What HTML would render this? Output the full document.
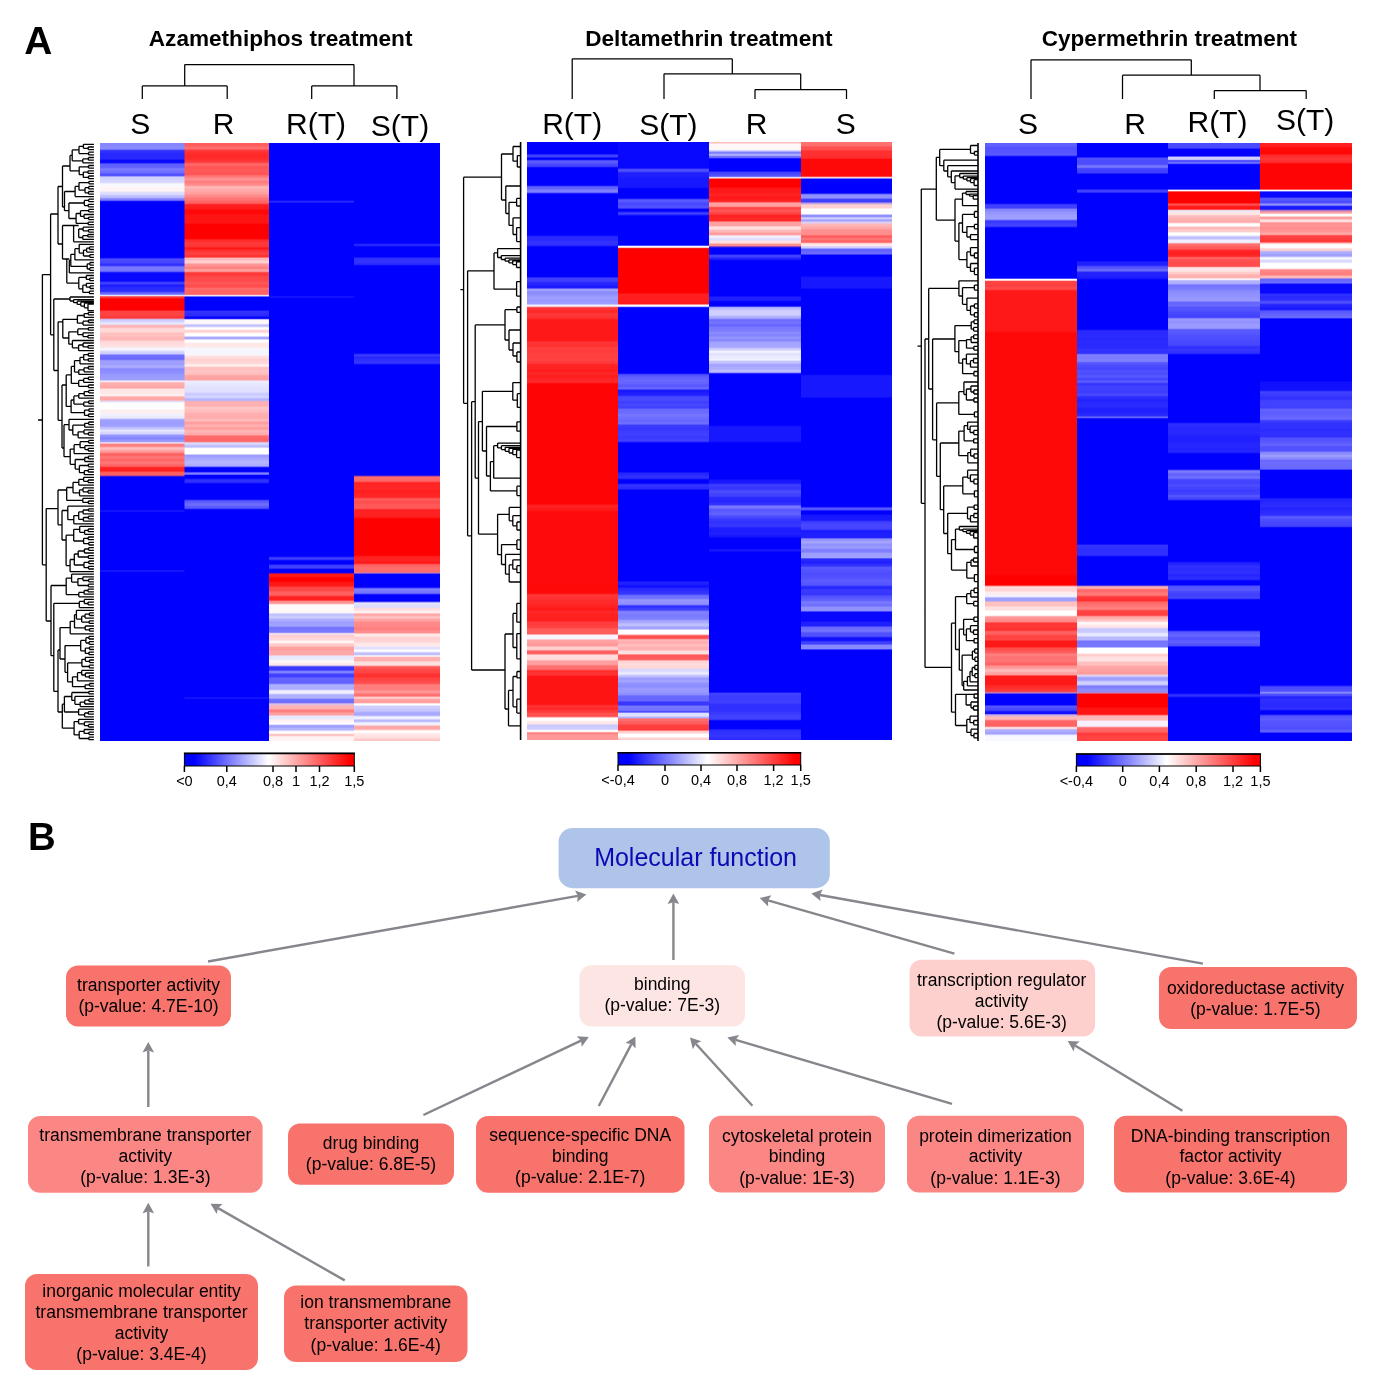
<!DOCTYPE html>
<html><head><meta charset="utf-8"><title>Figure</title>
<style>html,body{margin:0;padding:0;background:#fff}svg{display:block}text{font-family:"Liberation Sans", Arial, Helvetica, sans-serif}</style></head>
<body><svg width="1377" height="1386" viewBox="0 0 1377 1386">
<defs><linearGradient id="g1" gradientUnits="userSpaceOnUse" x1="0" y1="143" x2="0" y2="741"><stop offset="0.0015" stop-color="#8686ff"/><stop offset="0.0042" stop-color="#8686ff"/><stop offset="0.0072" stop-color="#8a8aff"/><stop offset="0.0099" stop-color="#8a8aff"/><stop offset="0.0129" stop-color="#3030ff"/><stop offset="0.0153" stop-color="#3030ff"/><stop offset="0.0183" stop-color="#2727ff"/><stop offset="0.0208" stop-color="#2727ff"/><stop offset="0.0238" stop-color="#2828ff"/><stop offset="0.0263" stop-color="#2828ff"/><stop offset="0.0293" stop-color="#0808ff"/><stop offset="0.0324" stop-color="#0808ff"/><stop offset="0.0355" stop-color="#6060ff"/><stop offset="0.0405" stop-color="#6060ff"/><stop offset="0.0433" stop-color="#7b7bff"/><stop offset="0.0450" stop-color="#7b7bff"/><stop offset="0.0476" stop-color="#6e6eff"/><stop offset="0.0494" stop-color="#6e6eff"/><stop offset="0.0522" stop-color="#5050ff"/><stop offset="0.0542" stop-color="#5050ff"/><stop offset="0.0572" stop-color="#d1d1ff"/><stop offset="0.0599" stop-color="#d1d1ff"/><stop offset="0.0629" stop-color="#d6d6ff"/><stop offset="0.0656" stop-color="#d6d6ff"/><stop offset="0.0686" stop-color="#f8f8ff"/><stop offset="0.0721" stop-color="#f8f8ff"/><stop offset="0.0751" stop-color="#fff4f4"/><stop offset="0.0798" stop-color="#fff4f4"/><stop offset="0.0828" stop-color="#dedeff"/><stop offset="0.0853" stop-color="#dedeff"/><stop offset="0.0883" stop-color="#bdbdff"/><stop offset="0.0908" stop-color="#bdbdff"/><stop offset="0.0936" stop-color="#8080ff"/><stop offset="0.0954" stop-color="#8080ff"/><stop offset="0.0982" stop-color="#0000ff"/><stop offset="0.1913" stop-color="#0000ff"/><stop offset="0.1941" stop-color="#4b4bff"/><stop offset="0.1959" stop-color="#4b4bff"/><stop offset="0.1985" stop-color="#4646ff"/><stop offset="0.2002" stop-color="#4646ff"/><stop offset="0.2028" stop-color="#3030ff"/><stop offset="0.2045" stop-color="#3030ff"/><stop offset="0.2073" stop-color="#7979ff"/><stop offset="0.2093" stop-color="#7979ff"/><stop offset="0.2123" stop-color="#7676ff"/><stop offset="0.2142" stop-color="#7676ff"/><stop offset="0.2172" stop-color="#0808ff"/><stop offset="0.2306" stop-color="#0808ff"/><stop offset="0.2335" stop-color="#4040ff"/><stop offset="0.2353" stop-color="#4040ff"/><stop offset="0.2379" stop-color="#1c1cff"/><stop offset="0.2395" stop-color="#1c1cff"/><stop offset="0.2421" stop-color="#2c2cff"/><stop offset="0.2437" stop-color="#2c2cff"/><stop offset="0.2462" stop-color="#2c2cff"/><stop offset="0.2479" stop-color="#2c2cff"/><stop offset="0.2507" stop-color="#6868ff"/><stop offset="0.2527" stop-color="#6868ff"/><stop offset="0.2553" stop-color="#f0f0ff"/><stop offset="0.2573" stop-color="#ff3030"/><stop offset="0.2586" stop-color="#ff3030"/><stop offset="0.2610" stop-color="#ff0000"/><stop offset="0.2788" stop-color="#ff0000"/><stop offset="0.2816" stop-color="#ff4343"/><stop offset="0.2835" stop-color="#ff4343"/><stop offset="0.2862" stop-color="#ff4343"/><stop offset="0.2880" stop-color="#ff4343"/><stop offset="0.2908" stop-color="#ff3838"/><stop offset="0.2926" stop-color="#ff3838"/><stop offset="0.2955" stop-color="#ccccff"/><stop offset="0.2977" stop-color="#ccccff"/><stop offset="0.3007" stop-color="#e5e5ff"/><stop offset="0.3028" stop-color="#e5e5ff"/><stop offset="0.3057" stop-color="#ffb0b0"/><stop offset="0.3075" stop-color="#ffb0b0"/><stop offset="0.3104" stop-color="#ffd8d8"/><stop offset="0.3154" stop-color="#ffd8d8"/><stop offset="0.3184" stop-color="#ffc0c0"/><stop offset="0.3222" stop-color="#ffc0c0"/><stop offset="0.3253" stop-color="#ffb8b8"/><stop offset="0.3291" stop-color="#ffb8b8"/><stop offset="0.3321" stop-color="#ffd9d9"/><stop offset="0.3349" stop-color="#ffd9d9"/><stop offset="0.3379" stop-color="#ffe0e0"/><stop offset="0.3406" stop-color="#ffe0e0"/><stop offset="0.3436" stop-color="#f4f4ff"/><stop offset="0.3463" stop-color="#f4f4ff"/><stop offset="0.3493" stop-color="#d0d0ff"/><stop offset="0.3520" stop-color="#d0d0ff"/><stop offset="0.3549" stop-color="#7070ff"/><stop offset="0.3568" stop-color="#7070ff"/><stop offset="0.3596" stop-color="#6969ff"/><stop offset="0.3615" stop-color="#6969ff"/><stop offset="0.3642" stop-color="#9f9fff"/><stop offset="0.3660" stop-color="#9f9fff"/><stop offset="0.3687" stop-color="#9e9eff"/><stop offset="0.3705" stop-color="#9e9eff"/><stop offset="0.3731" stop-color="#adadff"/><stop offset="0.3749" stop-color="#adadff"/><stop offset="0.3777" stop-color="#8989ff"/><stop offset="0.3795" stop-color="#8989ff"/><stop offset="0.3823" stop-color="#8d8dff"/><stop offset="0.3842" stop-color="#8d8dff"/><stop offset="0.3871" stop-color="#9898ff"/><stop offset="0.3899" stop-color="#9898ff"/><stop offset="0.3929" stop-color="#9e9eff"/><stop offset="0.3957" stop-color="#9e9eff"/><stop offset="0.3984" stop-color="#f4f4ff"/><stop offset="0.4012" stop-color="#ffaeae"/><stop offset="0.4038" stop-color="#ffaeae"/><stop offset="0.4068" stop-color="#ffa7a7"/><stop offset="0.4094" stop-color="#ffa7a7"/><stop offset="0.4122" stop-color="#ffe7e7"/><stop offset="0.4141" stop-color="#ffe7e7"/><stop offset="0.4168" stop-color="#ffe7e7"/><stop offset="0.4187" stop-color="#ffe7e7"/><stop offset="0.4211" stop-color="#fff0f0"/><stop offset="0.4224" stop-color="#fff0f0"/><stop offset="0.4249" stop-color="#ffa8a8"/><stop offset="0.4296" stop-color="#ffa8a8"/><stop offset="0.4324" stop-color="#e0e0ff"/><stop offset="0.4353" stop-color="#ffffff"/><stop offset="0.4438" stop-color="#ffffff"/><stop offset="0.4468" stop-color="#fff0f0"/><stop offset="0.4507" stop-color="#fff0f0"/><stop offset="0.4536" stop-color="#f1f1ff"/><stop offset="0.4554" stop-color="#f1f1ff"/><stop offset="0.4582" stop-color="#eaeaff"/><stop offset="0.4600" stop-color="#eaeaff"/><stop offset="0.4627" stop-color="#a1a1ff"/><stop offset="0.4645" stop-color="#a1a1ff"/><stop offset="0.4672" stop-color="#9d9dff"/><stop offset="0.4690" stop-color="#9d9dff"/><stop offset="0.4718" stop-color="#a0a0ff"/><stop offset="0.4736" stop-color="#a0a0ff"/><stop offset="0.4762" stop-color="#c3c3ff"/><stop offset="0.4779" stop-color="#c3c3ff"/><stop offset="0.4804" stop-color="#e5e5ff"/><stop offset="0.4821" stop-color="#e5e5ff"/><stop offset="0.4847" stop-color="#d3d3ff"/><stop offset="0.4864" stop-color="#d3d3ff"/><stop offset="0.4889" stop-color="#9494ff"/><stop offset="0.4906" stop-color="#9494ff"/><stop offset="0.4931" stop-color="#8484ff"/><stop offset="0.4948" stop-color="#8484ff"/><stop offset="0.4974" stop-color="#9898ff"/><stop offset="0.4991" stop-color="#9898ff"/><stop offset="0.5014" stop-color="#f0e8f8"/><stop offset="0.5040" stop-color="#ff8080"/><stop offset="0.5069" stop-color="#ff8080"/><stop offset="0.5099" stop-color="#ffbebe"/><stop offset="0.5119" stop-color="#ffbebe"/><stop offset="0.5149" stop-color="#ff9b9b"/><stop offset="0.5169" stop-color="#ff9b9b"/><stop offset="0.5198" stop-color="#ff6060"/><stop offset="0.5216" stop-color="#ff6060"/><stop offset="0.5244" stop-color="#ff7474"/><stop offset="0.5263" stop-color="#ff7474"/><stop offset="0.5291" stop-color="#ff6767"/><stop offset="0.5309" stop-color="#ff6767"/><stop offset="0.5337" stop-color="#ff7676"/><stop offset="0.5356" stop-color="#ff7676"/><stop offset="0.5384" stop-color="#ff6565"/><stop offset="0.5402" stop-color="#ff6565"/><stop offset="0.5431" stop-color="#ff2020"/><stop offset="0.5482" stop-color="#ff2020"/><stop offset="0.5512" stop-color="#ff6060"/><stop offset="0.5554" stop-color="#ff6060"/><stop offset="0.5584" stop-color="#0000ff"/><stop offset="0.6130" stop-color="#0000ff"/><stop offset="0.6154" stop-color="#1c1cff"/><stop offset="0.6177" stop-color="#0000ff"/><stop offset="0.7134" stop-color="#0000ff"/><stop offset="0.7157" stop-color="#2020ff"/><stop offset="0.7181" stop-color="#0000ff"/><stop offset="0.9985" stop-color="#0000ff"/></linearGradient>
<linearGradient id="g2" gradientUnits="userSpaceOnUse" x1="0" y1="143" x2="0" y2="741"><stop offset="0.0015" stop-color="#ff5c5c"/><stop offset="0.0042" stop-color="#ff5c5c"/><stop offset="0.0072" stop-color="#ff6c6c"/><stop offset="0.0099" stop-color="#ff6c6c"/><stop offset="0.0127" stop-color="#ff3535"/><stop offset="0.0144" stop-color="#ff3535"/><stop offset="0.0171" stop-color="#ff2c2c"/><stop offset="0.0188" stop-color="#ff2c2c"/><stop offset="0.0214" stop-color="#ff2828"/><stop offset="0.0232" stop-color="#ff2828"/><stop offset="0.0258" stop-color="#ff2d2d"/><stop offset="0.0276" stop-color="#ff2d2d"/><stop offset="0.0302" stop-color="#ff3939"/><stop offset="0.0320" stop-color="#ff3939"/><stop offset="0.0348" stop-color="#ff6767"/><stop offset="0.0370" stop-color="#ff6767"/><stop offset="0.0400" stop-color="#ff5555"/><stop offset="0.0421" stop-color="#ff5555"/><stop offset="0.0452" stop-color="#ff5959"/><stop offset="0.0473" stop-color="#ff5959"/><stop offset="0.0503" stop-color="#ff5555"/><stop offset="0.0525" stop-color="#ff5555"/><stop offset="0.0553" stop-color="#ff7979"/><stop offset="0.0571" stop-color="#ff7979"/><stop offset="0.0597" stop-color="#ff9292"/><stop offset="0.0615" stop-color="#ff9292"/><stop offset="0.0641" stop-color="#ff7d7d"/><stop offset="0.0659" stop-color="#ff7d7d"/><stop offset="0.0685" stop-color="#ff8a8a"/><stop offset="0.0703" stop-color="#ff8a8a"/><stop offset="0.0730" stop-color="#ffb6b6"/><stop offset="0.0750" stop-color="#ffb6b6"/><stop offset="0.0779" stop-color="#ffabab"/><stop offset="0.0798" stop-color="#ffabab"/><stop offset="0.0828" stop-color="#ffa1a1"/><stop offset="0.0847" stop-color="#ffa1a1"/><stop offset="0.0877" stop-color="#ff8a8a"/><stop offset="0.0897" stop-color="#ff8a8a"/><stop offset="0.0926" stop-color="#ff7474"/><stop offset="0.0951" stop-color="#ff7474"/><stop offset="0.0981" stop-color="#ff6464"/><stop offset="0.1005" stop-color="#ff6464"/><stop offset="0.1033" stop-color="#ff1f1f"/><stop offset="0.1051" stop-color="#ff1f1f"/><stop offset="0.1078" stop-color="#ff1b1b"/><stop offset="0.1095" stop-color="#ff1b1b"/><stop offset="0.1124" stop-color="#ff0808"/><stop offset="0.1181" stop-color="#ff0808"/><stop offset="0.1211" stop-color="#ff1414"/><stop offset="0.1334" stop-color="#ff1414"/><stop offset="0.1365" stop-color="#ff0000"/><stop offset="0.1595" stop-color="#ff0000"/><stop offset="0.1624" stop-color="#ff2c2c"/><stop offset="0.1641" stop-color="#ff2c2c"/><stop offset="0.1668" stop-color="#ff3939"/><stop offset="0.1685" stop-color="#ff3939"/><stop offset="0.1712" stop-color="#ff3636"/><stop offset="0.1729" stop-color="#ff3636"/><stop offset="0.1756" stop-color="#ff1818"/><stop offset="0.1773" stop-color="#ff1818"/><stop offset="0.1799" stop-color="#ff3434"/><stop offset="0.1816" stop-color="#ff3434"/><stop offset="0.1842" stop-color="#ff4040"/><stop offset="0.1860" stop-color="#ff4040"/><stop offset="0.1886" stop-color="#ff3232"/><stop offset="0.1903" stop-color="#ff3232"/><stop offset="0.1931" stop-color="#ffbbbb"/><stop offset="0.1951" stop-color="#ffbbbb"/><stop offset="0.1981" stop-color="#ffd0d0"/><stop offset="0.2000" stop-color="#ffd0d0"/><stop offset="0.2029" stop-color="#ff9595"/><stop offset="0.2048" stop-color="#ff9595"/><stop offset="0.2077" stop-color="#ff8282"/><stop offset="0.2096" stop-color="#ff8282"/><stop offset="0.2124" stop-color="#ffa2a2"/><stop offset="0.2143" stop-color="#ffa2a2"/><stop offset="0.2172" stop-color="#ff3838"/><stop offset="0.2209" stop-color="#ff3838"/><stop offset="0.2239" stop-color="#ff4949"/><stop offset="0.2258" stop-color="#ff4949"/><stop offset="0.2288" stop-color="#ff4a4a"/><stop offset="0.2307" stop-color="#ff4a4a"/><stop offset="0.2337" stop-color="#ff5757"/><stop offset="0.2356" stop-color="#ff5757"/><stop offset="0.2385" stop-color="#ff4c4c"/><stop offset="0.2405" stop-color="#ff4c4c"/><stop offset="0.2432" stop-color="#ff6a6a"/><stop offset="0.2448" stop-color="#ff6a6a"/><stop offset="0.2473" stop-color="#ff6363"/><stop offset="0.2489" stop-color="#ff6363"/><stop offset="0.2513" stop-color="#ff6464"/><stop offset="0.2530" stop-color="#ff6464"/><stop offset="0.2553" stop-color="#f0f0ff"/><stop offset="0.2579" stop-color="#0000ff"/><stop offset="0.2788" stop-color="#0000ff"/><stop offset="0.2818" stop-color="#3232ff"/><stop offset="0.2839" stop-color="#3232ff"/><stop offset="0.2869" stop-color="#2b2bff"/><stop offset="0.2890" stop-color="#2b2bff"/><stop offset="0.2916" stop-color="#0000ff"/><stop offset="0.2932" stop-color="#0000ff"/><stop offset="0.2958" stop-color="#fff8f8"/><stop offset="0.3017" stop-color="#fff8f8"/><stop offset="0.3045" stop-color="#c0c0ff"/><stop offset="0.3063" stop-color="#c0c0ff"/><stop offset="0.3091" stop-color="#ffffff"/><stop offset="0.3110" stop-color="#ffffff"/><stop offset="0.3139" stop-color="#ffd0d0"/><stop offset="0.3159" stop-color="#ffd0d0"/><stop offset="0.3189" stop-color="#ffffff"/><stop offset="0.3222" stop-color="#ffffff"/><stop offset="0.3252" stop-color="#a8a8ff"/><stop offset="0.3270" stop-color="#a8a8ff"/><stop offset="0.3299" stop-color="#ffffff"/><stop offset="0.3326" stop-color="#ffffff"/><stop offset="0.3356" stop-color="#ffe8e8"/><stop offset="0.3406" stop-color="#ffe8e8"/><stop offset="0.3436" stop-color="#f6f6ff"/><stop offset="0.3543" stop-color="#f6f6ff"/><stop offset="0.3572" stop-color="#ffdddd"/><stop offset="0.3591" stop-color="#ffdddd"/><stop offset="0.3618" stop-color="#ffd2d2"/><stop offset="0.3637" stop-color="#ffd2d2"/><stop offset="0.3664" stop-color="#ffd6d6"/><stop offset="0.3683" stop-color="#ffd6d6"/><stop offset="0.3710" stop-color="#ffeeee"/><stop offset="0.3729" stop-color="#ffeeee"/><stop offset="0.3756" stop-color="#ffbfbf"/><stop offset="0.3775" stop-color="#ffbfbf"/><stop offset="0.3802" stop-color="#ffc3c3"/><stop offset="0.3821" stop-color="#ffc3c3"/><stop offset="0.3848" stop-color="#ffbfbf"/><stop offset="0.3866" stop-color="#ffbfbf"/><stop offset="0.3894" stop-color="#ffa3a3"/><stop offset="0.3912" stop-color="#ffa3a3"/><stop offset="0.3940" stop-color="#ffa2a2"/><stop offset="0.3958" stop-color="#ffa2a2"/><stop offset="0.3985" stop-color="#ececff"/><stop offset="0.4004" stop-color="#ececff"/><stop offset="0.4031" stop-color="#e7e7ff"/><stop offset="0.4050" stop-color="#e7e7ff"/><stop offset="0.4079" stop-color="#e3e3ff"/><stop offset="0.4105" stop-color="#e3e3ff"/><stop offset="0.4135" stop-color="#e0e0ff"/><stop offset="0.4162" stop-color="#e0e0ff"/><stop offset="0.4191" stop-color="#cbcbff"/><stop offset="0.4209" stop-color="#cbcbff"/><stop offset="0.4237" stop-color="#d3d3ff"/><stop offset="0.4255" stop-color="#d3d3ff"/><stop offset="0.4282" stop-color="#b3b3ff"/><stop offset="0.4301" stop-color="#b3b3ff"/><stop offset="0.4328" stop-color="#ffb1b1"/><stop offset="0.4347" stop-color="#ffb1b1"/><stop offset="0.4374" stop-color="#ffafaf"/><stop offset="0.4393" stop-color="#ffafaf"/><stop offset="0.4421" stop-color="#ffc5c5"/><stop offset="0.4443" stop-color="#ffc5c5"/><stop offset="0.4473" stop-color="#ffbdbd"/><stop offset="0.4495" stop-color="#ffbdbd"/><stop offset="0.4525" stop-color="#ffafaf"/><stop offset="0.4547" stop-color="#ffafaf"/><stop offset="0.4577" stop-color="#ffacac"/><stop offset="0.4599" stop-color="#ffacac"/><stop offset="0.4627" stop-color="#ffbbbb"/><stop offset="0.4646" stop-color="#ffbbbb"/><stop offset="0.4673" stop-color="#ff9e9e"/><stop offset="0.4691" stop-color="#ff9e9e"/><stop offset="0.4719" stop-color="#ffb0b0"/><stop offset="0.4737" stop-color="#ffb0b0"/><stop offset="0.4765" stop-color="#ff9e9e"/><stop offset="0.4783" stop-color="#ff9e9e"/><stop offset="0.4810" stop-color="#ffb5b5"/><stop offset="0.4829" stop-color="#ffb5b5"/><stop offset="0.4856" stop-color="#ffacac"/><stop offset="0.4874" stop-color="#ffacac"/><stop offset="0.4903" stop-color="#ff6a6a"/><stop offset="0.4931" stop-color="#ff6a6a"/><stop offset="0.4961" stop-color="#ff6666"/><stop offset="0.4988" stop-color="#ff6666"/><stop offset="0.5017" stop-color="#dadaff"/><stop offset="0.5036" stop-color="#dadaff"/><stop offset="0.5063" stop-color="#bcbcff"/><stop offset="0.5082" stop-color="#bcbcff"/><stop offset="0.5110" stop-color="#ffffff"/><stop offset="0.5194" stop-color="#ffffff"/><stop offset="0.5224" stop-color="#9d9dff"/><stop offset="0.5246" stop-color="#9d9dff"/><stop offset="0.5276" stop-color="#aaaaff"/><stop offset="0.5298" stop-color="#aaaaff"/><stop offset="0.5328" stop-color="#b6b6ff"/><stop offset="0.5349" stop-color="#b6b6ff"/><stop offset="0.5380" stop-color="#adadff"/><stop offset="0.5401" stop-color="#adadff"/><stop offset="0.5431" stop-color="#0000ff"/><stop offset="0.5492" stop-color="#0000ff"/><stop offset="0.5520" stop-color="#8080ff"/><stop offset="0.5538" stop-color="#8080ff"/><stop offset="0.5560" stop-color="#0000ff"/><stop offset="0.5584" stop-color="#0000ff"/><stop offset="0.5604" stop-color="#0000ff"/><stop offset="0.5634" stop-color="#3030ff"/><stop offset="0.5671" stop-color="#3030ff"/><stop offset="0.5701" stop-color="#0000ff"/><stop offset="0.5955" stop-color="#0000ff"/><stop offset="0.5985" stop-color="#5a5aff"/><stop offset="0.6005" stop-color="#5a5aff"/><stop offset="0.6035" stop-color="#6c6cff"/><stop offset="0.6055" stop-color="#6c6cff"/><stop offset="0.6085" stop-color="#5858ff"/><stop offset="0.6105" stop-color="#5858ff"/><stop offset="0.6135" stop-color="#0000ff"/><stop offset="0.9258" stop-color="#0000ff"/><stop offset="0.9281" stop-color="#1c1cff"/><stop offset="0.9304" stop-color="#0000ff"/><stop offset="0.9985" stop-color="#0000ff"/></linearGradient>
<linearGradient id="g3" gradientUnits="userSpaceOnUse" x1="0" y1="143" x2="0" y2="741"><stop offset="0.0015" stop-color="#0000ff"/><stop offset="0.0955" stop-color="#0000ff"/><stop offset="0.0982" stop-color="#3030ff"/><stop offset="0.1010" stop-color="#0000ff"/><stop offset="0.2552" stop-color="#0000ff"/><stop offset="0.2575" stop-color="#1c1cff"/><stop offset="0.2599" stop-color="#0000ff"/><stop offset="0.6908" stop-color="#0000ff"/><stop offset="0.6938" stop-color="#4040ff"/><stop offset="0.6958" stop-color="#4040ff"/><stop offset="0.6988" stop-color="#0000ff"/><stop offset="0.7037" stop-color="#0000ff"/><stop offset="0.7067" stop-color="#4040ff"/><stop offset="0.7104" stop-color="#4040ff"/><stop offset="0.7134" stop-color="#0000ff"/><stop offset="0.7181" stop-color="#0000ff"/><stop offset="0.7211" stop-color="#ff1818"/><stop offset="0.7247" stop-color="#ff1818"/><stop offset="0.7278" stop-color="#ff0000"/><stop offset="0.7326" stop-color="#ff0000"/><stop offset="0.7356" stop-color="#ff1818"/><stop offset="0.7405" stop-color="#ff1818"/><stop offset="0.7435" stop-color="#ff4848"/><stop offset="0.7483" stop-color="#ff4848"/><stop offset="0.7513" stop-color="#ff6060"/><stop offset="0.7560" stop-color="#ff6060"/><stop offset="0.7590" stop-color="#ff2020"/><stop offset="0.7639" stop-color="#ff2020"/><stop offset="0.7669" stop-color="#ff9090"/><stop offset="0.7694" stop-color="#ff9090"/><stop offset="0.7724" stop-color="#fff8f8"/><stop offset="0.7851" stop-color="#fff8f8"/><stop offset="0.7880" stop-color="#c1c1ff"/><stop offset="0.7897" stop-color="#c1c1ff"/><stop offset="0.7924" stop-color="#cdcdff"/><stop offset="0.7942" stop-color="#cdcdff"/><stop offset="0.7968" stop-color="#aeaeff"/><stop offset="0.7986" stop-color="#aeaeff"/><stop offset="0.8013" stop-color="#9e9eff"/><stop offset="0.8031" stop-color="#9e9eff"/><stop offset="0.8057" stop-color="#a3a3ff"/><stop offset="0.8075" stop-color="#a3a3ff"/><stop offset="0.8104" stop-color="#7474ff"/><stop offset="0.8127" stop-color="#7474ff"/><stop offset="0.8157" stop-color="#7a7aff"/><stop offset="0.8181" stop-color="#7a7aff"/><stop offset="0.8204" stop-color="#f0e0f0"/><stop offset="0.8214" stop-color="#f0e0f0"/><stop offset="0.8237" stop-color="#ffcece"/><stop offset="0.8256" stop-color="#ffcece"/><stop offset="0.8285" stop-color="#ffd9d9"/><stop offset="0.8305" stop-color="#ffd9d9"/><stop offset="0.8334" stop-color="#fff3f3"/><stop offset="0.8353" stop-color="#fff3f3"/><stop offset="0.8383" stop-color="#ffc8c8"/><stop offset="0.8408" stop-color="#ffc8c8"/><stop offset="0.8438" stop-color="#ffa0a0"/><stop offset="0.8475" stop-color="#ffa0a0"/><stop offset="0.8505" stop-color="#ffa8a8"/><stop offset="0.8554" stop-color="#ffa8a8"/><stop offset="0.8584" stop-color="#e8e8ff"/><stop offset="0.8630" stop-color="#e8e8ff"/><stop offset="0.8661" stop-color="#fff8f8"/><stop offset="0.8681" stop-color="#fff8f8"/><stop offset="0.8711" stop-color="#ffe8e8"/><stop offset="0.8731" stop-color="#ffe8e8"/><stop offset="0.8761" stop-color="#3838ff"/><stop offset="0.8811" stop-color="#3838ff"/><stop offset="0.8839" stop-color="#8080ff"/><stop offset="0.8857" stop-color="#8080ff"/><stop offset="0.8885" stop-color="#4040ff"/><stop offset="0.8921" stop-color="#4040ff"/><stop offset="0.8952" stop-color="#6565ff"/><stop offset="0.8977" stop-color="#6565ff"/><stop offset="0.9007" stop-color="#6262ff"/><stop offset="0.9032" stop-color="#6262ff"/><stop offset="0.9062" stop-color="#b0b0ff"/><stop offset="0.9082" stop-color="#b0b0ff"/><stop offset="0.9112" stop-color="#ababff"/><stop offset="0.9132" stop-color="#ababff"/><stop offset="0.9162" stop-color="#f0f0ff"/><stop offset="0.9199" stop-color="#f0f0ff"/><stop offset="0.9229" stop-color="#b0b0ff"/><stop offset="0.9279" stop-color="#b0b0ff"/><stop offset="0.9309" stop-color="#7070ff"/><stop offset="0.9356" stop-color="#7070ff"/><stop offset="0.9381" stop-color="#e0c0e0"/><stop offset="0.9395" stop-color="#e0c0e0"/><stop offset="0.9420" stop-color="#ffb0b0"/><stop offset="0.9457" stop-color="#ffb0b0"/><stop offset="0.9487" stop-color="#ff7f7f"/><stop offset="0.9508" stop-color="#ff7f7f"/><stop offset="0.9538" stop-color="#ff9f9f"/><stop offset="0.9559" stop-color="#ff9f9f"/><stop offset="0.9589" stop-color="#e8e8ff"/><stop offset="0.9625" stop-color="#e8e8ff"/><stop offset="0.9654" stop-color="#fff2f2"/><stop offset="0.9671" stop-color="#fff2f2"/><stop offset="0.9698" stop-color="#ffffff"/><stop offset="0.9716" stop-color="#ffffff"/><stop offset="0.9744" stop-color="#9c9cff"/><stop offset="0.9764" stop-color="#9c9cff"/><stop offset="0.9794" stop-color="#b6b6ff"/><stop offset="0.9814" stop-color="#b6b6ff"/><stop offset="0.9844" stop-color="#ffffff"/><stop offset="0.9868" stop-color="#ffffff"/><stop offset="0.9893" stop-color="#ffc0c0"/><stop offset="0.9906" stop-color="#ffc0c0"/><stop offset="0.9931" stop-color="#fff4f4"/><stop offset="0.9985" stop-color="#fff4f4"/></linearGradient>
<linearGradient id="g4" gradientUnits="userSpaceOnUse" x1="0" y1="143" x2="0" y2="741"><stop offset="0.0015" stop-color="#0000ff"/><stop offset="0.1674" stop-color="#0000ff"/><stop offset="0.1699" stop-color="#2828ff"/><stop offset="0.1712" stop-color="#2828ff"/><stop offset="0.1737" stop-color="#0000ff"/><stop offset="0.1901" stop-color="#0000ff"/><stop offset="0.1929" stop-color="#3030ff"/><stop offset="0.1945" stop-color="#3030ff"/><stop offset="0.1970" stop-color="#3434ff"/><stop offset="0.1987" stop-color="#3434ff"/><stop offset="0.2011" stop-color="#2d2dff"/><stop offset="0.2028" stop-color="#2d2dff"/><stop offset="0.2055" stop-color="#0000ff"/><stop offset="0.3513" stop-color="#0000ff"/><stop offset="0.3541" stop-color="#3a3aff"/><stop offset="0.3558" stop-color="#3a3aff"/><stop offset="0.3583" stop-color="#2828ff"/><stop offset="0.3599" stop-color="#2828ff"/><stop offset="0.3625" stop-color="#3131ff"/><stop offset="0.3641" stop-color="#3131ff"/><stop offset="0.3666" stop-color="#3535ff"/><stop offset="0.3683" stop-color="#3535ff"/><stop offset="0.3711" stop-color="#0000ff"/><stop offset="0.5554" stop-color="#0000ff"/><stop offset="0.5584" stop-color="#ff6b6b"/><stop offset="0.5604" stop-color="#ff6b6b"/><stop offset="0.5634" stop-color="#ff6767"/><stop offset="0.5654" stop-color="#ff6767"/><stop offset="0.5682" stop-color="#ff2323"/><stop offset="0.5700" stop-color="#ff2323"/><stop offset="0.5727" stop-color="#ff2525"/><stop offset="0.5745" stop-color="#ff2525"/><stop offset="0.5771" stop-color="#ff2727"/><stop offset="0.5789" stop-color="#ff2727"/><stop offset="0.5816" stop-color="#ff1e1e"/><stop offset="0.5834" stop-color="#ff1e1e"/><stop offset="0.5861" stop-color="#ff2323"/><stop offset="0.5878" stop-color="#ff2323"/><stop offset="0.5905" stop-color="#ff2727"/><stop offset="0.5923" stop-color="#ff2727"/><stop offset="0.5950" stop-color="#ff5959"/><stop offset="0.5969" stop-color="#ff5959"/><stop offset="0.5996" stop-color="#ff4e4e"/><stop offset="0.6015" stop-color="#ff4e4e"/><stop offset="0.6042" stop-color="#ff5757"/><stop offset="0.6061" stop-color="#ff5757"/><stop offset="0.6088" stop-color="#ff5959"/><stop offset="0.6107" stop-color="#ff5959"/><stop offset="0.6135" stop-color="#ff2121"/><stop offset="0.6156" stop-color="#ff2121"/><stop offset="0.6186" stop-color="#ff2222"/><stop offset="0.6206" stop-color="#ff2222"/><stop offset="0.6236" stop-color="#ff1e1e"/><stop offset="0.6256" stop-color="#ff1e1e"/><stop offset="0.6286" stop-color="#ff0000"/><stop offset="0.6891" stop-color="#ff0000"/><stop offset="0.6920" stop-color="#ff2121"/><stop offset="0.6938" stop-color="#ff2121"/><stop offset="0.6964" stop-color="#ff2222"/><stop offset="0.6982" stop-color="#ff2222"/><stop offset="0.7009" stop-color="#ff1919"/><stop offset="0.7027" stop-color="#ff1919"/><stop offset="0.7055" stop-color="#ff6464"/><stop offset="0.7074" stop-color="#ff6464"/><stop offset="0.7103" stop-color="#ff6e6e"/><stop offset="0.7123" stop-color="#ff6e6e"/><stop offset="0.7152" stop-color="#ff6a6a"/><stop offset="0.7171" stop-color="#ff6a6a"/><stop offset="0.7191" stop-color="#c080c0"/><stop offset="0.7211" stop-color="#0000ff"/><stop offset="0.7426" stop-color="#0000ff"/><stop offset="0.7457" stop-color="#7f7fff"/><stop offset="0.7477" stop-color="#7f7fff"/><stop offset="0.7507" stop-color="#7474ff"/><stop offset="0.7527" stop-color="#7474ff"/><stop offset="0.7557" stop-color="#0000ff"/><stop offset="0.7661" stop-color="#0000ff"/><stop offset="0.7691" stop-color="#e3e3ff"/><stop offset="0.7711" stop-color="#e3e3ff"/><stop offset="0.7741" stop-color="#dcdcff"/><stop offset="0.7761" stop-color="#dcdcff"/><stop offset="0.7789" stop-color="#ffdddd"/><stop offset="0.7808" stop-color="#ffdddd"/><stop offset="0.7835" stop-color="#fff1f1"/><stop offset="0.7853" stop-color="#fff1f1"/><stop offset="0.7880" stop-color="#ffa6a6"/><stop offset="0.7897" stop-color="#ffa6a6"/><stop offset="0.7924" stop-color="#ffc3c3"/><stop offset="0.7942" stop-color="#ffc3c3"/><stop offset="0.7969" stop-color="#ffa4a4"/><stop offset="0.7987" stop-color="#ffa4a4"/><stop offset="0.8015" stop-color="#ff8b8b"/><stop offset="0.8035" stop-color="#ff8b8b"/><stop offset="0.8065" stop-color="#ff8787"/><stop offset="0.8085" stop-color="#ff8787"/><stop offset="0.8115" stop-color="#ff7f7f"/><stop offset="0.8135" stop-color="#ff7f7f"/><stop offset="0.8166" stop-color="#ff8f8f"/><stop offset="0.8186" stop-color="#ff8f8f"/><stop offset="0.8216" stop-color="#ffe8e8"/><stop offset="0.8241" stop-color="#ffe8e8"/><stop offset="0.8271" stop-color="#ffd0d0"/><stop offset="0.8291" stop-color="#ffd0d0"/><stop offset="0.8321" stop-color="#ffd5d5"/><stop offset="0.8341" stop-color="#ffd5d5"/><stop offset="0.8371" stop-color="#ffe8e8"/><stop offset="0.8408" stop-color="#ffe8e8"/><stop offset="0.8438" stop-color="#e0e0ff"/><stop offset="0.8458" stop-color="#e0e0ff"/><stop offset="0.8485" stop-color="#ffffff"/><stop offset="0.8500" stop-color="#ffffff"/><stop offset="0.8527" stop-color="#c0c0ff"/><stop offset="0.8554" stop-color="#c0c0ff"/><stop offset="0.8579" stop-color="#ffffff"/><stop offset="0.8605" stop-color="#ffb0b0"/><stop offset="0.8654" stop-color="#ffb0b0"/><stop offset="0.8684" stop-color="#ffe0e0"/><stop offset="0.8731" stop-color="#ffe0e0"/><stop offset="0.8758" stop-color="#ff5a5a"/><stop offset="0.8775" stop-color="#ff5a5a"/><stop offset="0.8799" stop-color="#ff4a4a"/><stop offset="0.8816" stop-color="#ff4a4a"/><stop offset="0.8841" stop-color="#ff4444"/><stop offset="0.8857" stop-color="#ff4444"/><stop offset="0.8885" stop-color="#ff3030"/><stop offset="0.8921" stop-color="#ff3030"/><stop offset="0.8952" stop-color="#ff4343"/><stop offset="0.8977" stop-color="#ff4343"/><stop offset="0.9007" stop-color="#ff4c4c"/><stop offset="0.9032" stop-color="#ff4c4c"/><stop offset="0.9062" stop-color="#ff7e7e"/><stop offset="0.9084" stop-color="#ff7e7e"/><stop offset="0.9114" stop-color="#ff7d7d"/><stop offset="0.9137" stop-color="#ff7d7d"/><stop offset="0.9167" stop-color="#ff9696"/><stop offset="0.9189" stop-color="#ff9696"/><stop offset="0.9219" stop-color="#ff7070"/><stop offset="0.9246" stop-color="#ff7070"/><stop offset="0.9271" stop-color="#ffd0d0"/><stop offset="0.9284" stop-color="#ffd0d0"/><stop offset="0.9309" stop-color="#ffa0a0"/><stop offset="0.9356" stop-color="#ffa0a0"/><stop offset="0.9381" stop-color="#ffffff"/><stop offset="0.9395" stop-color="#ffffff"/><stop offset="0.9420" stop-color="#cfcfff"/><stop offset="0.9445" stop-color="#cfcfff"/><stop offset="0.9475" stop-color="#c5c5ff"/><stop offset="0.9500" stop-color="#c5c5ff"/><stop offset="0.9530" stop-color="#a8a8ff"/><stop offset="0.9567" stop-color="#a8a8ff"/><stop offset="0.9597" stop-color="#f0f0ff"/><stop offset="0.9625" stop-color="#f0f0ff"/><stop offset="0.9653" stop-color="#b8b8ff"/><stop offset="0.9670" stop-color="#b8b8ff"/><stop offset="0.9697" stop-color="#f0f0ff"/><stop offset="0.9726" stop-color="#f0f0ff"/><stop offset="0.9756" stop-color="#ffa8a8"/><stop offset="0.9801" stop-color="#ffa8a8"/><stop offset="0.9831" stop-color="#ffffff"/><stop offset="0.9851" stop-color="#ffffff"/><stop offset="0.9881" stop-color="#ffe7e7"/><stop offset="0.9901" stop-color="#ffe7e7"/><stop offset="0.9929" stop-color="#ffe0e0"/><stop offset="0.9946" stop-color="#ffe0e0"/><stop offset="0.9971" stop-color="#ffc9c9"/><stop offset="0.9987" stop-color="#ffc9c9"/></linearGradient>
<linearGradient id="g5" gradientUnits="userSpaceOnUse" x1="0" y1="142" x2="0" y2="740"><stop offset="0.0015" stop-color="#0000ff"/><stop offset="0.0192" stop-color="#0000ff"/><stop offset="0.0222" stop-color="#4040ff"/><stop offset="0.0246" stop-color="#4040ff"/><stop offset="0.0273" stop-color="#0000ff"/><stop offset="0.0289" stop-color="#0000ff"/><stop offset="0.0316" stop-color="#5b5bff"/><stop offset="0.0344" stop-color="#5b5bff"/><stop offset="0.0375" stop-color="#4747ff"/><stop offset="0.0403" stop-color="#4747ff"/><stop offset="0.0433" stop-color="#0000ff"/><stop offset="0.0721" stop-color="#0000ff"/><stop offset="0.0751" stop-color="#6262ff"/><stop offset="0.0779" stop-color="#6262ff"/><stop offset="0.0809" stop-color="#7f7fff"/><stop offset="0.0838" stop-color="#7f7fff"/><stop offset="0.0868" stop-color="#0000ff"/><stop offset="0.1557" stop-color="#0000ff"/><stop offset="0.1584" stop-color="#2a2aff"/><stop offset="0.1601" stop-color="#2a2aff"/><stop offset="0.1626" stop-color="#2929ff"/><stop offset="0.1643" stop-color="#2929ff"/><stop offset="0.1668" stop-color="#3333ff"/><stop offset="0.1685" stop-color="#3333ff"/><stop offset="0.1710" stop-color="#2d2dff"/><stop offset="0.1727" stop-color="#2d2dff"/><stop offset="0.1754" stop-color="#0000ff"/><stop offset="0.2249" stop-color="#0000ff"/><stop offset="0.2279" stop-color="#4040ff"/><stop offset="0.2326" stop-color="#4040ff"/><stop offset="0.2356" stop-color="#2626ff"/><stop offset="0.2381" stop-color="#2626ff"/><stop offset="0.2411" stop-color="#1c1cff"/><stop offset="0.2436" stop-color="#1c1cff"/><stop offset="0.2465" stop-color="#a0a0ff"/><stop offset="0.2483" stop-color="#a0a0ff"/><stop offset="0.2509" stop-color="#8a8aff"/><stop offset="0.2527" stop-color="#8a8aff"/><stop offset="0.2554" stop-color="#9494ff"/><stop offset="0.2572" stop-color="#9494ff"/><stop offset="0.2599" stop-color="#9f9fff"/><stop offset="0.2616" stop-color="#9f9fff"/><stop offset="0.2643" stop-color="#9797ff"/><stop offset="0.2661" stop-color="#9797ff"/><stop offset="0.2688" stop-color="#9f9fff"/><stop offset="0.2706" stop-color="#9f9fff"/><stop offset="0.2730" stop-color="#f0f0ff"/><stop offset="0.2745" stop-color="#f0f0ff"/><stop offset="0.2771" stop-color="#ff3434"/><stop offset="0.2792" stop-color="#ff3434"/><stop offset="0.2822" stop-color="#ff2727"/><stop offset="0.2843" stop-color="#ff2727"/><stop offset="0.2873" stop-color="#ff3737"/><stop offset="0.2894" stop-color="#ff3737"/><stop offset="0.2924" stop-color="#ff3232"/><stop offset="0.2945" stop-color="#ff3232"/><stop offset="0.2975" stop-color="#ff1818"/><stop offset="0.3321" stop-color="#ff1818"/><stop offset="0.3350" stop-color="#ff3434"/><stop offset="0.3369" stop-color="#ff3434"/><stop offset="0.3397" stop-color="#ff3232"/><stop offset="0.3416" stop-color="#ff3232"/><stop offset="0.3444" stop-color="#ff3f3f"/><stop offset="0.3463" stop-color="#ff3f3f"/><stop offset="0.3491" stop-color="#ff3a3a"/><stop offset="0.3510" stop-color="#ff3a3a"/><stop offset="0.3538" stop-color="#ff4141"/><stop offset="0.3557" stop-color="#ff4141"/><stop offset="0.3585" stop-color="#ff3e3e"/><stop offset="0.3604" stop-color="#ff3e3e"/><stop offset="0.3632" stop-color="#ff4242"/><stop offset="0.3651" stop-color="#ff4242"/><stop offset="0.3679" stop-color="#ff3939"/><stop offset="0.3698" stop-color="#ff3939"/><stop offset="0.3726" stop-color="#ff2323"/><stop offset="0.3744" stop-color="#ff2323"/><stop offset="0.3771" stop-color="#ff2222"/><stop offset="0.3790" stop-color="#ff2222"/><stop offset="0.3817" stop-color="#ff1c1c"/><stop offset="0.3835" stop-color="#ff1c1c"/><stop offset="0.3862" stop-color="#ff2828"/><stop offset="0.3880" stop-color="#ff2828"/><stop offset="0.3908" stop-color="#ff1d1d"/><stop offset="0.3926" stop-color="#ff1d1d"/><stop offset="0.3953" stop-color="#ff2525"/><stop offset="0.3971" stop-color="#ff2525"/><stop offset="0.3998" stop-color="#ff2828"/><stop offset="0.4016" stop-color="#ff2828"/><stop offset="0.4045" stop-color="#ff0404"/><stop offset="0.6050" stop-color="#ff0404"/><stop offset="0.6080" stop-color="#ff2222"/><stop offset="0.6103" stop-color="#ff2222"/><stop offset="0.6133" stop-color="#ff1a1a"/><stop offset="0.6156" stop-color="#ff1a1a"/><stop offset="0.6186" stop-color="#ff0a0a"/><stop offset="0.7393" stop-color="#ff0a0a"/><stop offset="0.7423" stop-color="#ff0808"/><stop offset="0.7543" stop-color="#ff0808"/><stop offset="0.7573" stop-color="#ff3636"/><stop offset="0.7591" stop-color="#ff3636"/><stop offset="0.7619" stop-color="#ff3333"/><stop offset="0.7638" stop-color="#ff3333"/><stop offset="0.7666" stop-color="#ff2a2a"/><stop offset="0.7685" stop-color="#ff2a2a"/><stop offset="0.7713" stop-color="#ff2727"/><stop offset="0.7732" stop-color="#ff2727"/><stop offset="0.7759" stop-color="#ff2121"/><stop offset="0.7777" stop-color="#ff2121"/><stop offset="0.7804" stop-color="#ff1818"/><stop offset="0.7822" stop-color="#ff1818"/><stop offset="0.7849" stop-color="#ff2727"/><stop offset="0.7867" stop-color="#ff2727"/><stop offset="0.7894" stop-color="#ff2020"/><stop offset="0.7912" stop-color="#ff2020"/><stop offset="0.7939" stop-color="#ff2020"/><stop offset="0.7957" stop-color="#ff2020"/><stop offset="0.7984" stop-color="#ff1f1f"/><stop offset="0.8002" stop-color="#ff1f1f"/><stop offset="0.8030" stop-color="#ff3b3b"/><stop offset="0.8058" stop-color="#ff3b3b"/><stop offset="0.8088" stop-color="#ff4141"/><stop offset="0.8115" stop-color="#ff4141"/><stop offset="0.8145" stop-color="#ff5b5b"/><stop offset="0.8168" stop-color="#ff5b5b"/><stop offset="0.8198" stop-color="#ff5d5d"/><stop offset="0.8221" stop-color="#ff5d5d"/><stop offset="0.8251" stop-color="#f8f4ff"/><stop offset="0.8303" stop-color="#f8f4ff"/><stop offset="0.8333" stop-color="#ffa3a3"/><stop offset="0.8361" stop-color="#ffa3a3"/><stop offset="0.8391" stop-color="#ff9898"/><stop offset="0.8420" stop-color="#ff9898"/><stop offset="0.8450" stop-color="#ffd0d0"/><stop offset="0.8485" stop-color="#ffd0d0"/><stop offset="0.8515" stop-color="#ff6060"/><stop offset="0.8554" stop-color="#ff6060"/><stop offset="0.8583" stop-color="#ffdddd"/><stop offset="0.8603" stop-color="#ffdddd"/><stop offset="0.8633" stop-color="#ffdada"/><stop offset="0.8652" stop-color="#ffdada"/><stop offset="0.8682" stop-color="#ffa0a0"/><stop offset="0.8734" stop-color="#ffa0a0"/><stop offset="0.8764" stop-color="#ff7070"/><stop offset="0.8814" stop-color="#ff7070"/><stop offset="0.8843" stop-color="#ff2f2f"/><stop offset="0.8862" stop-color="#ff2f2f"/><stop offset="0.8890" stop-color="#ff3333"/><stop offset="0.8909" stop-color="#ff3333"/><stop offset="0.8938" stop-color="#ff1414"/><stop offset="0.9400" stop-color="#ff1414"/><stop offset="0.9427" stop-color="#ff3131"/><stop offset="0.9444" stop-color="#ff3131"/><stop offset="0.9470" stop-color="#ff2828"/><stop offset="0.9487" stop-color="#ff2828"/><stop offset="0.9512" stop-color="#ff3a3a"/><stop offset="0.9529" stop-color="#ff3a3a"/><stop offset="0.9557" stop-color="#ff5050"/><stop offset="0.9604" stop-color="#ff5050"/><stop offset="0.9634" stop-color="#ffffff"/><stop offset="0.9667" stop-color="#ffffff"/><stop offset="0.9697" stop-color="#ffe8e8"/><stop offset="0.9724" stop-color="#ffe8e8"/><stop offset="0.9753" stop-color="#c9c9ff"/><stop offset="0.9772" stop-color="#c9c9ff"/><stop offset="0.9800" stop-color="#cdcdff"/><stop offset="0.9819" stop-color="#cdcdff"/><stop offset="0.9843" stop-color="#ffffff"/><stop offset="0.9856" stop-color="#ffffff"/><stop offset="0.9880" stop-color="#ff8585"/><stop offset="0.9897" stop-color="#ff8585"/><stop offset="0.9924" stop-color="#ff9797"/><stop offset="0.9942" stop-color="#ff9797"/><stop offset="0.9969" stop-color="#ff9898"/><stop offset="0.9987" stop-color="#ff9898"/></linearGradient>
<linearGradient id="g6" gradientUnits="userSpaceOnUse" x1="0" y1="142" x2="0" y2="740"><stop offset="0.0015" stop-color="#0808ff"/><stop offset="0.0433" stop-color="#0808ff"/><stop offset="0.0463" stop-color="#5050ff"/><stop offset="0.0487" stop-color="#5050ff"/><stop offset="0.0515" stop-color="#2020ff"/><stop offset="0.0533" stop-color="#2020ff"/><stop offset="0.0560" stop-color="#1e1eff"/><stop offset="0.0577" stop-color="#1e1eff"/><stop offset="0.0604" stop-color="#1919ff"/><stop offset="0.0622" stop-color="#1919ff"/><stop offset="0.0651" stop-color="#1818ff"/><stop offset="0.0754" stop-color="#1818ff"/><stop offset="0.0784" stop-color="#0000ff"/><stop offset="0.0938" stop-color="#0000ff"/><stop offset="0.0968" stop-color="#5a5aff"/><stop offset="0.0992" stop-color="#5a5aff"/><stop offset="0.1022" stop-color="#4848ff"/><stop offset="0.1046" stop-color="#4848ff"/><stop offset="0.1076" stop-color="#5151ff"/><stop offset="0.1100" stop-color="#5151ff"/><stop offset="0.1130" stop-color="#0000ff"/><stop offset="0.1156" stop-color="#0000ff"/><stop offset="0.1186" stop-color="#4040ff"/><stop offset="0.1206" stop-color="#4040ff"/><stop offset="0.1236" stop-color="#0000ff"/><stop offset="0.1724" stop-color="#0000ff"/><stop offset="0.1748" stop-color="#ffffff"/><stop offset="0.1759" stop-color="#ffffff"/><stop offset="0.1783" stop-color="#ff0000"/><stop offset="0.2517" stop-color="#ff0000"/><stop offset="0.2546" stop-color="#ff1e1e"/><stop offset="0.2565" stop-color="#ff1e1e"/><stop offset="0.2593" stop-color="#ff1d1d"/><stop offset="0.2611" stop-color="#ff1d1d"/><stop offset="0.2639" stop-color="#ff1e1e"/><stop offset="0.2658" stop-color="#ff1e1e"/><stop offset="0.2686" stop-color="#ff1b1b"/><stop offset="0.2705" stop-color="#ff1b1b"/><stop offset="0.2730" stop-color="#ffffff"/><stop offset="0.2745" stop-color="#ffffff"/><stop offset="0.2771" stop-color="#0000ff"/><stop offset="0.3865" stop-color="#0000ff"/><stop offset="0.3893" stop-color="#5353ff"/><stop offset="0.3910" stop-color="#5353ff"/><stop offset="0.3936" stop-color="#6161ff"/><stop offset="0.3953" stop-color="#6161ff"/><stop offset="0.3979" stop-color="#6868ff"/><stop offset="0.3996" stop-color="#6868ff"/><stop offset="0.4022" stop-color="#6464ff"/><stop offset="0.4039" stop-color="#6464ff"/><stop offset="0.4065" stop-color="#5858ff"/><stop offset="0.4083" stop-color="#5858ff"/><stop offset="0.4109" stop-color="#6565ff"/><stop offset="0.4126" stop-color="#6565ff"/><stop offset="0.4154" stop-color="#1919ff"/><stop offset="0.4178" stop-color="#1919ff"/><stop offset="0.4208" stop-color="#1f1fff"/><stop offset="0.4232" stop-color="#1f1fff"/><stop offset="0.4260" stop-color="#4747ff"/><stop offset="0.4277" stop-color="#4747ff"/><stop offset="0.4302" stop-color="#4949ff"/><stop offset="0.4319" stop-color="#4949ff"/><stop offset="0.4344" stop-color="#3f3fff"/><stop offset="0.4361" stop-color="#3f3fff"/><stop offset="0.4387" stop-color="#4848ff"/><stop offset="0.4403" stop-color="#4848ff"/><stop offset="0.4429" stop-color="#4040ff"/><stop offset="0.4446" stop-color="#4040ff"/><stop offset="0.4472" stop-color="#6969ff"/><stop offset="0.4489" stop-color="#6969ff"/><stop offset="0.4516" stop-color="#6a6aff"/><stop offset="0.4534" stop-color="#6a6aff"/><stop offset="0.4561" stop-color="#7676ff"/><stop offset="0.4579" stop-color="#7676ff"/><stop offset="0.4605" stop-color="#6f6fff"/><stop offset="0.4623" stop-color="#6f6fff"/><stop offset="0.4650" stop-color="#6767ff"/><stop offset="0.4668" stop-color="#6767ff"/><stop offset="0.4695" stop-color="#6f6fff"/><stop offset="0.4712" stop-color="#6f6fff"/><stop offset="0.4740" stop-color="#3b3bff"/><stop offset="0.4760" stop-color="#3b3bff"/><stop offset="0.4789" stop-color="#3535ff"/><stop offset="0.4808" stop-color="#3535ff"/><stop offset="0.4837" stop-color="#3e3eff"/><stop offset="0.4857" stop-color="#3e3eff"/><stop offset="0.4886" stop-color="#3f3fff"/><stop offset="0.4905" stop-color="#3f3fff"/><stop offset="0.4934" stop-color="#3a3aff"/><stop offset="0.4954" stop-color="#3a3aff"/><stop offset="0.4983" stop-color="#4141ff"/><stop offset="0.5002" stop-color="#4141ff"/><stop offset="0.5032" stop-color="#0000ff"/><stop offset="0.5512" stop-color="#0000ff"/><stop offset="0.5542" stop-color="#2727ff"/><stop offset="0.5566" stop-color="#2727ff"/><stop offset="0.5596" stop-color="#3030ff"/><stop offset="0.5620" stop-color="#3030ff"/><stop offset="0.5651" stop-color="#0000ff"/><stop offset="0.5704" stop-color="#0000ff"/><stop offset="0.5733" stop-color="#3333ff"/><stop offset="0.5751" stop-color="#3333ff"/><stop offset="0.5778" stop-color="#2d2dff"/><stop offset="0.5796" stop-color="#2d2dff"/><stop offset="0.5824" stop-color="#0000ff"/><stop offset="0.7333" stop-color="#0000ff"/><stop offset="0.7363" stop-color="#2020ff"/><stop offset="0.7393" stop-color="#2020ff"/><stop offset="0.7422" stop-color="#1010ff"/><stop offset="0.7441" stop-color="#1010ff"/><stop offset="0.7470" stop-color="#2a2aff"/><stop offset="0.7498" stop-color="#2a2aff"/><stop offset="0.7528" stop-color="#3434ff"/><stop offset="0.7557" stop-color="#3434ff"/><stop offset="0.7587" stop-color="#7070ff"/><stop offset="0.7627" stop-color="#7070ff"/><stop offset="0.7657" stop-color="#9696ff"/><stop offset="0.7679" stop-color="#9696ff"/><stop offset="0.7709" stop-color="#8f8fff"/><stop offset="0.7731" stop-color="#8f8fff"/><stop offset="0.7760" stop-color="#2f2fff"/><stop offset="0.7779" stop-color="#2f2fff"/><stop offset="0.7807" stop-color="#4242ff"/><stop offset="0.7825" stop-color="#4242ff"/><stop offset="0.7855" stop-color="#8383ff"/><stop offset="0.7875" stop-color="#8383ff"/><stop offset="0.7905" stop-color="#7b7bff"/><stop offset="0.7926" stop-color="#7b7bff"/><stop offset="0.7956" stop-color="#7e7eff"/><stop offset="0.7977" stop-color="#7e7eff"/><stop offset="0.8007" stop-color="#a6a6ff"/><stop offset="0.8031" stop-color="#a6a6ff"/><stop offset="0.8061" stop-color="#bfbfff"/><stop offset="0.8085" stop-color="#bfbfff"/><stop offset="0.8115" stop-color="#a3a3ff"/><stop offset="0.8139" stop-color="#a3a3ff"/><stop offset="0.8169" stop-color="#ffffff"/><stop offset="0.8227" stop-color="#ffffff"/><stop offset="0.8258" stop-color="#ff5050"/><stop offset="0.8298" stop-color="#ff5050"/><stop offset="0.8325" stop-color="#ffb6b6"/><stop offset="0.8341" stop-color="#ffb6b6"/><stop offset="0.8366" stop-color="#ffaeae"/><stop offset="0.8382" stop-color="#ffaeae"/><stop offset="0.8406" stop-color="#ffbfbf"/><stop offset="0.8423" stop-color="#ffbfbf"/><stop offset="0.8450" stop-color="#ffb0b0"/><stop offset="0.8488" stop-color="#ffb0b0"/><stop offset="0.8518" stop-color="#ffe0e0"/><stop offset="0.8554" stop-color="#ffe0e0"/><stop offset="0.8583" stop-color="#ff5858"/><stop offset="0.8603" stop-color="#ff5858"/><stop offset="0.8633" stop-color="#ff5c5c"/><stop offset="0.8652" stop-color="#ff5c5c"/><stop offset="0.8681" stop-color="#ffd3d3"/><stop offset="0.8700" stop-color="#ffd3d3"/><stop offset="0.8728" stop-color="#ffdbdb"/><stop offset="0.8747" stop-color="#ffdbdb"/><stop offset="0.8775" stop-color="#ffd7d7"/><stop offset="0.8794" stop-color="#ffd7d7"/><stop offset="0.8823" stop-color="#d8d8ff"/><stop offset="0.8845" stop-color="#d8d8ff"/><stop offset="0.8875" stop-color="#eaeaff"/><stop offset="0.8898" stop-color="#eaeaff"/><stop offset="0.8926" stop-color="#bebeff"/><stop offset="0.8943" stop-color="#bebeff"/><stop offset="0.8968" stop-color="#9d9dff"/><stop offset="0.8985" stop-color="#9d9dff"/><stop offset="0.9010" stop-color="#a4a4ff"/><stop offset="0.9027" stop-color="#a4a4ff"/><stop offset="0.9053" stop-color="#9090ff"/><stop offset="0.9070" stop-color="#9090ff"/><stop offset="0.9095" stop-color="#8c8cff"/><stop offset="0.9112" stop-color="#8c8cff"/><stop offset="0.9137" stop-color="#9999ff"/><stop offset="0.9154" stop-color="#9999ff"/><stop offset="0.9179" stop-color="#9898ff"/><stop offset="0.9196" stop-color="#9898ff"/><stop offset="0.9221" stop-color="#8f8fff"/><stop offset="0.9238" stop-color="#8f8fff"/><stop offset="0.9266" stop-color="#6868ff"/><stop offset="0.9288" stop-color="#6868ff"/><stop offset="0.9318" stop-color="#6868ff"/><stop offset="0.9339" stop-color="#6868ff"/><stop offset="0.9370" stop-color="#3838ff"/><stop offset="0.9410" stop-color="#3838ff"/><stop offset="0.9439" stop-color="#7878ff"/><stop offset="0.9458" stop-color="#7878ff"/><stop offset="0.9486" stop-color="#7272ff"/><stop offset="0.9504" stop-color="#7272ff"/><stop offset="0.9530" stop-color="#4040ff"/><stop offset="0.9557" stop-color="#e0e0ff"/><stop offset="0.9597" stop-color="#e0e0ff"/><stop offset="0.9624" stop-color="#b0b0ff"/><stop offset="0.9651" stop-color="#ff6d6d"/><stop offset="0.9672" stop-color="#ff6d6d"/><stop offset="0.9702" stop-color="#ff5e5e"/><stop offset="0.9724" stop-color="#ff5e5e"/><stop offset="0.9754" stop-color="#ff4040"/><stop offset="0.9777" stop-color="#ff4040"/><stop offset="0.9807" stop-color="#ff3b3b"/><stop offset="0.9829" stop-color="#ff3b3b"/><stop offset="0.9859" stop-color="#ffd0d0"/><stop offset="0.9877" stop-color="#ffd0d0"/><stop offset="0.9906" stop-color="#ffffff"/><stop offset="0.9946" stop-color="#ffffff"/><stop offset="0.9973" stop-color="#ffd0d0"/><stop offset="0.9988" stop-color="#ffd0d0"/></linearGradient>
<linearGradient id="g7" gradientUnits="userSpaceOnUse" x1="0" y1="142" x2="0" y2="740"><stop offset="0.0013" stop-color="#ffc0c0"/><stop offset="0.0040" stop-color="#fff8f8"/><stop offset="0.0125" stop-color="#fff8f8"/><stop offset="0.0152" stop-color="#c0c0ff"/><stop offset="0.0174" stop-color="#8080ff"/><stop offset="0.0188" stop-color="#8080ff"/><stop offset="0.0209" stop-color="#b0b0ff"/><stop offset="0.0222" stop-color="#b0b0ff"/><stop offset="0.0243" stop-color="#7070ff"/><stop offset="0.0257" stop-color="#7070ff"/><stop offset="0.0283" stop-color="#0000ff"/><stop offset="0.0483" stop-color="#0000ff"/><stop offset="0.0511" stop-color="#4545ff"/><stop offset="0.0529" stop-color="#4545ff"/><stop offset="0.0555" stop-color="#5050ff"/><stop offset="0.0572" stop-color="#5050ff"/><stop offset="0.0597" stop-color="#fff0f0"/><stop offset="0.0624" stop-color="#ff0000"/><stop offset="0.0749" stop-color="#ff0000"/><stop offset="0.0779" stop-color="#ff1818"/><stop offset="0.0841" stop-color="#ff1818"/><stop offset="0.0871" stop-color="#ff2222"/><stop offset="0.0891" stop-color="#ff2222"/><stop offset="0.0921" stop-color="#ff1818"/><stop offset="0.0941" stop-color="#ff1818"/><stop offset="0.0972" stop-color="#ff2020"/><stop offset="0.0992" stop-color="#ff2020"/><stop offset="0.1022" stop-color="#ffa0a0"/><stop offset="0.1072" stop-color="#ffa0a0"/><stop offset="0.1100" stop-color="#ff4444"/><stop offset="0.1117" stop-color="#ff4444"/><stop offset="0.1142" stop-color="#ff5757"/><stop offset="0.1159" stop-color="#ff5757"/><stop offset="0.1184" stop-color="#ff4444"/><stop offset="0.1201" stop-color="#ff4444"/><stop offset="0.1229" stop-color="#ff2222"/><stop offset="0.1257" stop-color="#ff2222"/><stop offset="0.1287" stop-color="#ff2828"/><stop offset="0.1314" stop-color="#ff2828"/><stop offset="0.1344" stop-color="#ffa0a0"/><stop offset="0.1395" stop-color="#ffa0a0"/><stop offset="0.1425" stop-color="#ffe0e0"/><stop offset="0.1453" stop-color="#ffe0e0"/><stop offset="0.1482" stop-color="#ffb6b6"/><stop offset="0.1500" stop-color="#ffb6b6"/><stop offset="0.1528" stop-color="#ff9d9d"/><stop offset="0.1546" stop-color="#ff9d9d"/><stop offset="0.1574" stop-color="#f2f2ff"/><stop offset="0.1592" stop-color="#f2f2ff"/><stop offset="0.1620" stop-color="#ddddff"/><stop offset="0.1638" stop-color="#ddddff"/><stop offset="0.1666" stop-color="#ffe0e0"/><stop offset="0.1685" stop-color="#ffe0e0"/><stop offset="0.1713" stop-color="#ff9090"/><stop offset="0.1731" stop-color="#ff9090"/><stop offset="0.1750" stop-color="#8040c0"/><stop offset="0.1771" stop-color="#0000ff"/><stop offset="0.1868" stop-color="#0000ff"/><stop offset="0.1898" stop-color="#4040ff"/><stop offset="0.1925" stop-color="#4040ff"/><stop offset="0.1949" stop-color="#2020ff"/><stop offset="0.1961" stop-color="#2020ff"/><stop offset="0.1985" stop-color="#0000ff"/><stop offset="0.2570" stop-color="#0000ff"/><stop offset="0.2600" stop-color="#2020ff"/><stop offset="0.2644" stop-color="#2020ff"/><stop offset="0.2674" stop-color="#0000ff"/><stop offset="0.2741" stop-color="#0000ff"/><stop offset="0.2771" stop-color="#b9b9ff"/><stop offset="0.2792" stop-color="#b9b9ff"/><stop offset="0.2822" stop-color="#d0d0ff"/><stop offset="0.2843" stop-color="#d0d0ff"/><stop offset="0.2873" stop-color="#ceceff"/><stop offset="0.2894" stop-color="#ceceff"/><stop offset="0.2924" stop-color="#aaaaff"/><stop offset="0.2945" stop-color="#aaaaff"/><stop offset="0.2973" stop-color="#6c6cff"/><stop offset="0.2990" stop-color="#6c6cff"/><stop offset="0.3015" stop-color="#7474ff"/><stop offset="0.3032" stop-color="#7474ff"/><stop offset="0.3058" stop-color="#6666ff"/><stop offset="0.3075" stop-color="#6666ff"/><stop offset="0.3100" stop-color="#7979ff"/><stop offset="0.3117" stop-color="#7979ff"/><stop offset="0.3143" stop-color="#7c7cff"/><stop offset="0.3159" stop-color="#7c7cff"/><stop offset="0.3185" stop-color="#8a8aff"/><stop offset="0.3201" stop-color="#8a8aff"/><stop offset="0.3226" stop-color="#8383ff"/><stop offset="0.3242" stop-color="#8383ff"/><stop offset="0.3266" stop-color="#9494ff"/><stop offset="0.3283" stop-color="#9494ff"/><stop offset="0.3307" stop-color="#8888ff"/><stop offset="0.3324" stop-color="#8888ff"/><stop offset="0.3351" stop-color="#a3a3ff"/><stop offset="0.3375" stop-color="#a3a3ff"/><stop offset="0.3406" stop-color="#a7a7ff"/><stop offset="0.3430" stop-color="#a7a7ff"/><stop offset="0.3458" stop-color="#cfcfff"/><stop offset="0.3475" stop-color="#cfcfff"/><stop offset="0.3500" stop-color="#f1f1ff"/><stop offset="0.3517" stop-color="#f1f1ff"/><stop offset="0.3543" stop-color="#e0e0ff"/><stop offset="0.3559" stop-color="#e0e0ff"/><stop offset="0.3585" stop-color="#eaeaff"/><stop offset="0.3602" stop-color="#eaeaff"/><stop offset="0.3627" stop-color="#f0f0ff"/><stop offset="0.3644" stop-color="#f0f0ff"/><stop offset="0.3672" stop-color="#c4c4ff"/><stop offset="0.3694" stop-color="#c4c4ff"/><stop offset="0.3724" stop-color="#a3a3ff"/><stop offset="0.3745" stop-color="#a3a3ff"/><stop offset="0.3775" stop-color="#acacff"/><stop offset="0.3796" stop-color="#acacff"/><stop offset="0.3827" stop-color="#bfbfff"/><stop offset="0.3848" stop-color="#bfbfff"/><stop offset="0.3878" stop-color="#0000ff"/><stop offset="0.4734" stop-color="#0000ff"/><stop offset="0.4764" stop-color="#1818ff"/><stop offset="0.5002" stop-color="#1818ff"/><stop offset="0.5032" stop-color="#0000ff"/><stop offset="0.5470" stop-color="#0000ff"/><stop offset="0.5500" stop-color="#0000ff"/><stop offset="0.5632" stop-color="#0000ff"/><stop offset="0.5662" stop-color="#1818ff"/><stop offset="0.5701" stop-color="#1818ff"/><stop offset="0.5731" stop-color="#3d3dff"/><stop offset="0.5753" stop-color="#3d3dff"/><stop offset="0.5783" stop-color="#3636ff"/><stop offset="0.5804" stop-color="#3636ff"/><stop offset="0.5834" stop-color="#4c4cff"/><stop offset="0.5862" stop-color="#4c4cff"/><stop offset="0.5892" stop-color="#4141ff"/><stop offset="0.5920" stop-color="#4141ff"/><stop offset="0.5949" stop-color="#2929ff"/><stop offset="0.5967" stop-color="#2929ff"/><stop offset="0.5995" stop-color="#2727ff"/><stop offset="0.6013" stop-color="#2727ff"/><stop offset="0.6041" stop-color="#2e2eff"/><stop offset="0.6060" stop-color="#2e2eff"/><stop offset="0.6089" stop-color="#7878ff"/><stop offset="0.6115" stop-color="#7878ff"/><stop offset="0.6145" stop-color="#5959ff"/><stop offset="0.6173" stop-color="#5959ff"/><stop offset="0.6203" stop-color="#6060ff"/><stop offset="0.6231" stop-color="#6060ff"/><stop offset="0.6260" stop-color="#4a4aff"/><stop offset="0.6278" stop-color="#4a4aff"/><stop offset="0.6306" stop-color="#3838ff"/><stop offset="0.6324" stop-color="#3838ff"/><stop offset="0.6353" stop-color="#3131ff"/><stop offset="0.6375" stop-color="#3131ff"/><stop offset="0.6406" stop-color="#3737ff"/><stop offset="0.6428" stop-color="#3737ff"/><stop offset="0.6456" stop-color="#1e1eff"/><stop offset="0.6473" stop-color="#1e1eff"/><stop offset="0.6499" stop-color="#1c1cff"/><stop offset="0.6516" stop-color="#1c1cff"/><stop offset="0.6542" stop-color="#2020ff"/><stop offset="0.6559" stop-color="#2020ff"/><stop offset="0.6585" stop-color="#1414ff"/><stop offset="0.6602" stop-color="#1414ff"/><stop offset="0.6630" stop-color="#0000ff"/><stop offset="0.6796" stop-color="#0000ff"/><stop offset="0.6822" stop-color="#1818ff"/><stop offset="0.6836" stop-color="#1818ff"/><stop offset="0.6861" stop-color="#0000ff"/><stop offset="0.6975" stop-color="#0000ff"/><stop offset="0.7005" stop-color="#0000ff"/><stop offset="0.9194" stop-color="#0000ff"/><stop offset="0.9223" stop-color="#4141ff"/><stop offset="0.9241" stop-color="#4141ff"/><stop offset="0.9268" stop-color="#3c3cff"/><stop offset="0.9287" stop-color="#3c3cff"/><stop offset="0.9314" stop-color="#3e3eff"/><stop offset="0.9332" stop-color="#3e3eff"/><stop offset="0.9360" stop-color="#3f3fff"/><stop offset="0.9378" stop-color="#3f3fff"/><stop offset="0.9405" stop-color="#3030ff"/><stop offset="0.9424" stop-color="#3030ff"/><stop offset="0.9451" stop-color="#2f2fff"/><stop offset="0.9469" stop-color="#2f2fff"/><stop offset="0.9497" stop-color="#3131ff"/><stop offset="0.9515" stop-color="#3131ff"/><stop offset="0.9542" stop-color="#3838ff"/><stop offset="0.9561" stop-color="#3838ff"/><stop offset="0.9588" stop-color="#4141ff"/><stop offset="0.9606" stop-color="#4141ff"/><stop offset="0.9634" stop-color="#4040ff"/><stop offset="0.9652" stop-color="#4040ff"/><stop offset="0.9681" stop-color="#0000ff"/><stop offset="0.9808" stop-color="#0000ff"/><stop offset="0.9836" stop-color="#2e2eff"/><stop offset="0.9854" stop-color="#2e2eff"/><stop offset="0.9880" stop-color="#3232ff"/><stop offset="0.9898" stop-color="#3232ff"/><stop offset="0.9925" stop-color="#3535ff"/><stop offset="0.9942" stop-color="#3535ff"/><stop offset="0.9969" stop-color="#2d2dff"/><stop offset="0.9987" stop-color="#2d2dff"/></linearGradient>
<linearGradient id="g8" gradientUnits="userSpaceOnUse" x1="0" y1="142" x2="0" y2="740"><stop offset="0.0015" stop-color="#ff7070"/><stop offset="0.0057" stop-color="#ff7070"/><stop offset="0.0087" stop-color="#ff5050"/><stop offset="0.0125" stop-color="#ff5050"/><stop offset="0.0154" stop-color="#ff3030"/><stop offset="0.0173" stop-color="#ff3030"/><stop offset="0.0201" stop-color="#ff3030"/><stop offset="0.0219" stop-color="#ff3030"/><stop offset="0.0247" stop-color="#ff2c2c"/><stop offset="0.0265" stop-color="#ff2c2c"/><stop offset="0.0294" stop-color="#ff0808"/><stop offset="0.0570" stop-color="#ff0808"/><stop offset="0.0597" stop-color="#fff0f0"/><stop offset="0.0624" stop-color="#0000ff"/><stop offset="0.0853" stop-color="#0000ff"/><stop offset="0.0883" stop-color="#9090ff"/><stop offset="0.0933" stop-color="#9090ff"/><stop offset="0.0963" stop-color="#4040ff"/><stop offset="0.0998" stop-color="#4040ff"/><stop offset="0.1027" stop-color="#c0a0e0"/><stop offset="0.1055" stop-color="#ffd0d0"/><stop offset="0.1095" stop-color="#ffd0d0"/><stop offset="0.1125" stop-color="#ffffff"/><stop offset="0.1147" stop-color="#ffffff"/><stop offset="0.1177" stop-color="#fcfcff"/><stop offset="0.1199" stop-color="#fcfcff"/><stop offset="0.1228" stop-color="#9090ff"/><stop offset="0.1246" stop-color="#9090ff"/><stop offset="0.1270" stop-color="#d0d0ff"/><stop offset="0.1284" stop-color="#d0d0ff"/><stop offset="0.1305" stop-color="#a0a0ff"/><stop offset="0.1319" stop-color="#a0a0ff"/><stop offset="0.1340" stop-color="#e0d0f0"/><stop offset="0.1354" stop-color="#e0d0f0"/><stop offset="0.1378" stop-color="#ffb6b6"/><stop offset="0.1397" stop-color="#ffb6b6"/><stop offset="0.1424" stop-color="#ffa9a9"/><stop offset="0.1443" stop-color="#ffa9a9"/><stop offset="0.1472" stop-color="#ff9090"/><stop offset="0.1493" stop-color="#ff9090"/><stop offset="0.1523" stop-color="#ff8e8e"/><stop offset="0.1545" stop-color="#ff8e8e"/><stop offset="0.1573" stop-color="#ff5b5b"/><stop offset="0.1590" stop-color="#ff5b5b"/><stop offset="0.1615" stop-color="#ff7474"/><stop offset="0.1632" stop-color="#ff7474"/><stop offset="0.1658" stop-color="#ff6262"/><stop offset="0.1675" stop-color="#ff6262"/><stop offset="0.1702" stop-color="#ffe8e8"/><stop offset="0.1729" stop-color="#ffe8e8"/><stop offset="0.1755" stop-color="#d0d0ff"/><stop offset="0.1769" stop-color="#d0d0ff"/><stop offset="0.1794" stop-color="#6262ff"/><stop offset="0.1816" stop-color="#6262ff"/><stop offset="0.1846" stop-color="#6a6aff"/><stop offset="0.1868" stop-color="#6a6aff"/><stop offset="0.1898" stop-color="#0000ff"/><stop offset="0.1925" stop-color="#0000ff"/><stop offset="0.1955" stop-color="#0000ff"/><stop offset="0.2239" stop-color="#0000ff"/><stop offset="0.2269" stop-color="#1818ff"/><stop offset="0.2436" stop-color="#1818ff"/><stop offset="0.2467" stop-color="#0000ff"/><stop offset="0.3881" stop-color="#0000ff"/><stop offset="0.3911" stop-color="#1818ff"/><stop offset="0.4258" stop-color="#1818ff"/><stop offset="0.4288" stop-color="#0000ff"/><stop offset="0.5470" stop-color="#0000ff"/><stop offset="0.5500" stop-color="#0000ff"/><stop offset="0.6094" stop-color="#0000ff"/><stop offset="0.6124" stop-color="#5858ff"/><stop offset="0.6144" stop-color="#5858ff"/><stop offset="0.6174" stop-color="#0000ff"/><stop offset="0.6219" stop-color="#0000ff"/><stop offset="0.6249" stop-color="#1818ff"/><stop offset="0.6323" stop-color="#1818ff"/><stop offset="0.6353" stop-color="#3f3fff"/><stop offset="0.6373" stop-color="#3f3fff"/><stop offset="0.6403" stop-color="#4747ff"/><stop offset="0.6423" stop-color="#4747ff"/><stop offset="0.6453" stop-color="#4444ff"/><stop offset="0.6473" stop-color="#4444ff"/><stop offset="0.6502" stop-color="#1b1bff"/><stop offset="0.6521" stop-color="#1b1bff"/><stop offset="0.6548" stop-color="#2020ff"/><stop offset="0.6567" stop-color="#2020ff"/><stop offset="0.6595" stop-color="#1f1fff"/><stop offset="0.6613" stop-color="#1f1fff"/><stop offset="0.6640" stop-color="#9393ff"/><stop offset="0.6658" stop-color="#9393ff"/><stop offset="0.6684" stop-color="#a4a4ff"/><stop offset="0.6701" stop-color="#a4a4ff"/><stop offset="0.6727" stop-color="#9191ff"/><stop offset="0.6744" stop-color="#9191ff"/><stop offset="0.6771" stop-color="#9a9aff"/><stop offset="0.6788" stop-color="#9a9aff"/><stop offset="0.6816" stop-color="#8080ff"/><stop offset="0.6855" stop-color="#8080ff"/><stop offset="0.6883" stop-color="#9e9eff"/><stop offset="0.6902" stop-color="#9e9eff"/><stop offset="0.6929" stop-color="#a0a0ff"/><stop offset="0.6948" stop-color="#a0a0ff"/><stop offset="0.6975" stop-color="#2626ff"/><stop offset="0.6994" stop-color="#2626ff"/><stop offset="0.7022" stop-color="#2020ff"/><stop offset="0.7040" stop-color="#2020ff"/><stop offset="0.7068" stop-color="#3030ff"/><stop offset="0.7086" stop-color="#3030ff"/><stop offset="0.7115" stop-color="#5858ff"/><stop offset="0.7137" stop-color="#5858ff"/><stop offset="0.7167" stop-color="#5151ff"/><stop offset="0.7189" stop-color="#5151ff"/><stop offset="0.7219" stop-color="#4e4eff"/><stop offset="0.7241" stop-color="#4e4eff"/><stop offset="0.7271" stop-color="#5151ff"/><stop offset="0.7293" stop-color="#5151ff"/><stop offset="0.7323" stop-color="#5b5bff"/><stop offset="0.7350" stop-color="#5b5bff"/><stop offset="0.7380" stop-color="#5656ff"/><stop offset="0.7408" stop-color="#5656ff"/><stop offset="0.7438" stop-color="#2727ff"/><stop offset="0.7462" stop-color="#2727ff"/><stop offset="0.7492" stop-color="#3a3aff"/><stop offset="0.7516" stop-color="#3a3aff"/><stop offset="0.7546" stop-color="#3636ff"/><stop offset="0.7570" stop-color="#3636ff"/><stop offset="0.7599" stop-color="#5555ff"/><stop offset="0.7617" stop-color="#5555ff"/><stop offset="0.7645" stop-color="#5f5fff"/><stop offset="0.7663" stop-color="#5f5fff"/><stop offset="0.7691" stop-color="#7979ff"/><stop offset="0.7709" stop-color="#7979ff"/><stop offset="0.7737" stop-color="#7070ff"/><stop offset="0.7755" stop-color="#7070ff"/><stop offset="0.7784" stop-color="#9090ff"/><stop offset="0.7834" stop-color="#9090ff"/><stop offset="0.7865" stop-color="#0808ff"/><stop offset="0.8008" stop-color="#0808ff"/><stop offset="0.8038" stop-color="#2020ff"/><stop offset="0.8089" stop-color="#2020ff"/><stop offset="0.8117" stop-color="#6a6aff"/><stop offset="0.8136" stop-color="#6a6aff"/><stop offset="0.8163" stop-color="#7373ff"/><stop offset="0.8182" stop-color="#7373ff"/><stop offset="0.8211" stop-color="#5050ff"/><stop offset="0.8263" stop-color="#5050ff"/><stop offset="0.8293" stop-color="#1010ff"/><stop offset="0.8331" stop-color="#1010ff"/><stop offset="0.8361" stop-color="#4040ff"/><stop offset="0.8390" stop-color="#4040ff"/><stop offset="0.8420" stop-color="#8888ff"/><stop offset="0.8470" stop-color="#8888ff"/><stop offset="0.8500" stop-color="#0000ff"/><stop offset="0.8647" stop-color="#0000ff"/><stop offset="0.8677" stop-color="#0000ff"/><stop offset="0.9985" stop-color="#0000ff"/></linearGradient>
<linearGradient id="g9" gradientUnits="userSpaceOnUse" x1="0" y1="143" x2="0" y2="741"><stop offset="0.0015" stop-color="#6060ff"/><stop offset="0.0042" stop-color="#6060ff"/><stop offset="0.0072" stop-color="#5252ff"/><stop offset="0.0095" stop-color="#5252ff"/><stop offset="0.0125" stop-color="#5353ff"/><stop offset="0.0149" stop-color="#5353ff"/><stop offset="0.0179" stop-color="#5858ff"/><stop offset="0.0202" stop-color="#5858ff"/><stop offset="0.0232" stop-color="#0000ff"/><stop offset="0.1005" stop-color="#0000ff"/><stop offset="0.1035" stop-color="#4040ff"/><stop offset="0.1084" stop-color="#4040ff"/><stop offset="0.1113" stop-color="#8888ff"/><stop offset="0.1132" stop-color="#8888ff"/><stop offset="0.1160" stop-color="#9595ff"/><stop offset="0.1179" stop-color="#9595ff"/><stop offset="0.1207" stop-color="#9e9eff"/><stop offset="0.1226" stop-color="#9e9eff"/><stop offset="0.1255" stop-color="#9f9fff"/><stop offset="0.1273" stop-color="#9f9fff"/><stop offset="0.1303" stop-color="#3939ff"/><stop offset="0.1331" stop-color="#3939ff"/><stop offset="0.1361" stop-color="#4343ff"/><stop offset="0.1390" stop-color="#4343ff"/><stop offset="0.1420" stop-color="#0000ff"/><stop offset="0.2259" stop-color="#0000ff"/><stop offset="0.2282" stop-color="#ffffff"/><stop offset="0.2293" stop-color="#ffffff"/><stop offset="0.2316" stop-color="#ff4343"/><stop offset="0.2338" stop-color="#ff4343"/><stop offset="0.2368" stop-color="#ff4040"/><stop offset="0.2391" stop-color="#ff4040"/><stop offset="0.2421" stop-color="#ff4a4a"/><stop offset="0.2443" stop-color="#ff4a4a"/><stop offset="0.2473" stop-color="#ff1818"/><stop offset="0.3145" stop-color="#ff1818"/><stop offset="0.3176" stop-color="#ff0808"/><stop offset="0.7209" stop-color="#ff0808"/><stop offset="0.7239" stop-color="#ff0000"/><stop offset="0.7391" stop-color="#ff0000"/><stop offset="0.7421" stop-color="#ffd9d9"/><stop offset="0.7440" stop-color="#ffd9d9"/><stop offset="0.7469" stop-color="#ffd5d5"/><stop offset="0.7488" stop-color="#ffd5d5"/><stop offset="0.7517" stop-color="#ffeded"/><stop offset="0.7536" stop-color="#ffeded"/><stop offset="0.7564" stop-color="#f0f0ff"/><stop offset="0.7583" stop-color="#f0f0ff"/><stop offset="0.7612" stop-color="#a0a0ff"/><stop offset="0.7652" stop-color="#a0a0ff"/><stop offset="0.7682" stop-color="#ffc0c0"/><stop offset="0.7734" stop-color="#ffc0c0"/><stop offset="0.7764" stop-color="#ffe0e0"/><stop offset="0.7804" stop-color="#ffe0e0"/><stop offset="0.7834" stop-color="#ffffff"/><stop offset="0.7896" stop-color="#ffffff"/><stop offset="0.7926" stop-color="#ff9595"/><stop offset="0.7949" stop-color="#ff9595"/><stop offset="0.7979" stop-color="#ff8989"/><stop offset="0.8002" stop-color="#ff8989"/><stop offset="0.8031" stop-color="#ff3434"/><stop offset="0.8049" stop-color="#ff3434"/><stop offset="0.8078" stop-color="#ff3838"/><stop offset="0.8096" stop-color="#ff3838"/><stop offset="0.8124" stop-color="#ff2f2f"/><stop offset="0.8143" stop-color="#ff2f2f"/><stop offset="0.8172" stop-color="#ff6060"/><stop offset="0.8212" stop-color="#ff6060"/><stop offset="0.8241" stop-color="#ff4242"/><stop offset="0.8260" stop-color="#ff4242"/><stop offset="0.8287" stop-color="#ff4545"/><stop offset="0.8306" stop-color="#ff4545"/><stop offset="0.8334" stop-color="#ff1818"/><stop offset="0.8421" stop-color="#ff1818"/><stop offset="0.8451" stop-color="#ff4e4e"/><stop offset="0.8469" stop-color="#ff4e4e"/><stop offset="0.8497" stop-color="#ff5959"/><stop offset="0.8516" stop-color="#ff5959"/><stop offset="0.8545" stop-color="#ff7d7d"/><stop offset="0.8567" stop-color="#ff7d7d"/><stop offset="0.8597" stop-color="#ff7272"/><stop offset="0.8620" stop-color="#ff7272"/><stop offset="0.8650" stop-color="#ff7575"/><stop offset="0.8672" stop-color="#ff7575"/><stop offset="0.8702" stop-color="#ff6464"/><stop offset="0.8724" stop-color="#ff6464"/><stop offset="0.8754" stop-color="#ff9696"/><stop offset="0.8779" stop-color="#ff9696"/><stop offset="0.8809" stop-color="#ffbbbb"/><stop offset="0.8833" stop-color="#ffbbbb"/><stop offset="0.8863" stop-color="#ff9f9f"/><stop offset="0.8888" stop-color="#ff9f9f"/><stop offset="0.8918" stop-color="#ff1818"/><stop offset="0.9052" stop-color="#ff1818"/><stop offset="0.9082" stop-color="#ff2a2a"/><stop offset="0.9110" stop-color="#ff2a2a"/><stop offset="0.9140" stop-color="#ff3838"/><stop offset="0.9167" stop-color="#ff3838"/><stop offset="0.9194" stop-color="#c080c0"/><stop offset="0.9221" stop-color="#0000ff"/><stop offset="0.9390" stop-color="#0000ff"/><stop offset="0.9419" stop-color="#5656ff"/><stop offset="0.9437" stop-color="#5656ff"/><stop offset="0.9466" stop-color="#4747ff"/><stop offset="0.9484" stop-color="#4747ff"/><stop offset="0.9513" stop-color="#1010ff"/><stop offset="0.9540" stop-color="#1010ff"/><stop offset="0.9564" stop-color="#d0b0e0"/><stop offset="0.9575" stop-color="#d0b0e0"/><stop offset="0.9599" stop-color="#ffb8b8"/><stop offset="0.9634" stop-color="#ffb8b8"/><stop offset="0.9664" stop-color="#ff6363"/><stop offset="0.9692" stop-color="#ff6363"/><stop offset="0.9722" stop-color="#ff6161"/><stop offset="0.9751" stop-color="#ff6161"/><stop offset="0.9776" stop-color="#ffe0e0"/><stop offset="0.9789" stop-color="#ffe0e0"/><stop offset="0.9814" stop-color="#aeaeff"/><stop offset="0.9833" stop-color="#aeaeff"/><stop offset="0.9861" stop-color="#a3a3ff"/><stop offset="0.9880" stop-color="#a3a3ff"/><stop offset="0.9910" stop-color="#f8f8ff"/><stop offset="0.9985" stop-color="#f8f8ff"/></linearGradient>
<linearGradient id="g10" gradientUnits="userSpaceOnUse" x1="0" y1="143" x2="0" y2="741"><stop offset="0.0015" stop-color="#0000ff"/><stop offset="0.0229" stop-color="#0000ff"/><stop offset="0.0257" stop-color="#5151ff"/><stop offset="0.0273" stop-color="#5151ff"/><stop offset="0.0298" stop-color="#4b4bff"/><stop offset="0.0314" stop-color="#4b4bff"/><stop offset="0.0339" stop-color="#4d4dff"/><stop offset="0.0356" stop-color="#4d4dff"/><stop offset="0.0383" stop-color="#7878ff"/><stop offset="0.0403" stop-color="#7878ff"/><stop offset="0.0432" stop-color="#4141ff"/><stop offset="0.0450" stop-color="#4141ff"/><stop offset="0.0478" stop-color="#3f3fff"/><stop offset="0.0496" stop-color="#3f3fff"/><stop offset="0.0525" stop-color="#0000ff"/><stop offset="0.0763" stop-color="#0000ff"/><stop offset="0.0793" stop-color="#4040ff"/><stop offset="0.0816" stop-color="#4040ff"/><stop offset="0.0846" stop-color="#0000ff"/><stop offset="0.1965" stop-color="#0000ff"/><stop offset="0.1995" stop-color="#2020ff"/><stop offset="0.2042" stop-color="#2020ff"/><stop offset="0.2071" stop-color="#5353ff"/><stop offset="0.2090" stop-color="#5353ff"/><stop offset="0.2118" stop-color="#6a6aff"/><stop offset="0.2136" stop-color="#6a6aff"/><stop offset="0.2163" stop-color="#2424ff"/><stop offset="0.2179" stop-color="#2424ff"/><stop offset="0.2204" stop-color="#2121ff"/><stop offset="0.2221" stop-color="#2121ff"/><stop offset="0.2245" stop-color="#1a1aff"/><stop offset="0.2262" stop-color="#1a1aff"/><stop offset="0.2289" stop-color="#0000ff"/><stop offset="0.3112" stop-color="#0000ff"/><stop offset="0.3140" stop-color="#2929ff"/><stop offset="0.3158" stop-color="#2929ff"/><stop offset="0.3185" stop-color="#2929ff"/><stop offset="0.3203" stop-color="#2929ff"/><stop offset="0.3230" stop-color="#2c2cff"/><stop offset="0.3247" stop-color="#2c2cff"/><stop offset="0.3274" stop-color="#2727ff"/><stop offset="0.3292" stop-color="#2727ff"/><stop offset="0.3319" stop-color="#2c2cff"/><stop offset="0.3337" stop-color="#2c2cff"/><stop offset="0.3363" stop-color="#2a2aff"/><stop offset="0.3381" stop-color="#2a2aff"/><stop offset="0.3408" stop-color="#2a2aff"/><stop offset="0.3426" stop-color="#2a2aff"/><stop offset="0.3453" stop-color="#3333ff"/><stop offset="0.3470" stop-color="#3333ff"/><stop offset="0.3497" stop-color="#2f2fff"/><stop offset="0.3515" stop-color="#2f2fff"/><stop offset="0.3542" stop-color="#7f7fff"/><stop offset="0.3560" stop-color="#7f7fff"/><stop offset="0.3586" stop-color="#7b7bff"/><stop offset="0.3604" stop-color="#7b7bff"/><stop offset="0.3631" stop-color="#8181ff"/><stop offset="0.3649" stop-color="#8181ff"/><stop offset="0.3675" stop-color="#5757ff"/><stop offset="0.3693" stop-color="#5757ff"/><stop offset="0.3719" stop-color="#4b4bff"/><stop offset="0.3737" stop-color="#4b4bff"/><stop offset="0.3763" stop-color="#4545ff"/><stop offset="0.3781" stop-color="#4545ff"/><stop offset="0.3807" stop-color="#5050ff"/><stop offset="0.3825" stop-color="#5050ff"/><stop offset="0.3851" stop-color="#4d4dff"/><stop offset="0.3869" stop-color="#4d4dff"/><stop offset="0.3895" stop-color="#5757ff"/><stop offset="0.3912" stop-color="#5757ff"/><stop offset="0.3939" stop-color="#4646ff"/><stop offset="0.3956" stop-color="#4646ff"/><stop offset="0.3983" stop-color="#5959ff"/><stop offset="0.4000" stop-color="#5959ff"/><stop offset="0.4026" stop-color="#3535ff"/><stop offset="0.4044" stop-color="#3535ff"/><stop offset="0.4070" stop-color="#4141ff"/><stop offset="0.4087" stop-color="#4141ff"/><stop offset="0.4113" stop-color="#3f3fff"/><stop offset="0.4131" stop-color="#3f3fff"/><stop offset="0.4157" stop-color="#3c3cff"/><stop offset="0.4174" stop-color="#3c3cff"/><stop offset="0.4200" stop-color="#4949ff"/><stop offset="0.4218" stop-color="#4949ff"/><stop offset="0.4246" stop-color="#2c2cff"/><stop offset="0.4265" stop-color="#2c2cff"/><stop offset="0.4295" stop-color="#2222ff"/><stop offset="0.4314" stop-color="#2222ff"/><stop offset="0.4344" stop-color="#2828ff"/><stop offset="0.4364" stop-color="#2828ff"/><stop offset="0.4393" stop-color="#2a2aff"/><stop offset="0.4413" stop-color="#2a2aff"/><stop offset="0.4442" stop-color="#2020ff"/><stop offset="0.4462" stop-color="#2020ff"/><stop offset="0.4492" stop-color="#2121ff"/><stop offset="0.4511" stop-color="#2121ff"/><stop offset="0.4541" stop-color="#2a2aff"/><stop offset="0.4560" stop-color="#2a2aff"/><stop offset="0.4587" stop-color="#7070ff"/><stop offset="0.4614" stop-color="#0000ff"/><stop offset="0.6702" stop-color="#0000ff"/><stop offset="0.6731" stop-color="#3434ff"/><stop offset="0.6750" stop-color="#3434ff"/><stop offset="0.6778" stop-color="#2f2fff"/><stop offset="0.6797" stop-color="#2f2fff"/><stop offset="0.6825" stop-color="#2e2eff"/><stop offset="0.6844" stop-color="#2e2eff"/><stop offset="0.6872" stop-color="#3030ff"/><stop offset="0.6891" stop-color="#3030ff"/><stop offset="0.6920" stop-color="#0000ff"/><stop offset="0.7209" stop-color="#0000ff"/><stop offset="0.7239" stop-color="#0000ff"/><stop offset="0.7391" stop-color="#0000ff"/><stop offset="0.7421" stop-color="#ffb0b0"/><stop offset="0.7443" stop-color="#ffb0b0"/><stop offset="0.7473" stop-color="#ff6969"/><stop offset="0.7502" stop-color="#ff6969"/><stop offset="0.7532" stop-color="#ff7b7b"/><stop offset="0.7560" stop-color="#ff7b7b"/><stop offset="0.7589" stop-color="#ff3939"/><stop offset="0.7607" stop-color="#ff3939"/><stop offset="0.7635" stop-color="#ff3030"/><stop offset="0.7653" stop-color="#ff3030"/><stop offset="0.7681" stop-color="#ff6969"/><stop offset="0.7700" stop-color="#ff6969"/><stop offset="0.7728" stop-color="#ff7575"/><stop offset="0.7747" stop-color="#ff7575"/><stop offset="0.7775" stop-color="#ff8282"/><stop offset="0.7794" stop-color="#ff8282"/><stop offset="0.7823" stop-color="#ff4444"/><stop offset="0.7844" stop-color="#ff4444"/><stop offset="0.7875" stop-color="#ff3f3f"/><stop offset="0.7896" stop-color="#ff3f3f"/><stop offset="0.7925" stop-color="#ffabab"/><stop offset="0.7944" stop-color="#ffabab"/><stop offset="0.7972" stop-color="#ffc1c1"/><stop offset="0.7991" stop-color="#ffc1c1"/><stop offset="0.8020" stop-color="#fff6f6"/><stop offset="0.8043" stop-color="#fff6f6"/><stop offset="0.8073" stop-color="#ffe5e5"/><stop offset="0.8095" stop-color="#ffe5e5"/><stop offset="0.8125" stop-color="#c8c8ff"/><stop offset="0.8177" stop-color="#c8c8ff"/><stop offset="0.8207" stop-color="#e8e8ff"/><stop offset="0.8236" stop-color="#e8e8ff"/><stop offset="0.8266" stop-color="#b8b8ff"/><stop offset="0.8304" stop-color="#b8b8ff"/><stop offset="0.8334" stop-color="#7474ff"/><stop offset="0.8363" stop-color="#7474ff"/><stop offset="0.8393" stop-color="#7878ff"/><stop offset="0.8421" stop-color="#7878ff"/><stop offset="0.8452" stop-color="#ffffff"/><stop offset="0.8474" stop-color="#ffffff"/><stop offset="0.8504" stop-color="#ffffff"/><stop offset="0.8527" stop-color="#ffffff"/><stop offset="0.8555" stop-color="#ffcdcd"/><stop offset="0.8571" stop-color="#ffcdcd"/><stop offset="0.8597" stop-color="#ffdfdf"/><stop offset="0.8614" stop-color="#ffdfdf"/><stop offset="0.8639" stop-color="#ffe4e4"/><stop offset="0.8656" stop-color="#ffe4e4"/><stop offset="0.8684" stop-color="#ffc0c0"/><stop offset="0.8724" stop-color="#ffc0c0"/><stop offset="0.8754" stop-color="#ffa6a6"/><stop offset="0.8775" stop-color="#ffa6a6"/><stop offset="0.8805" stop-color="#ffa1a1"/><stop offset="0.8826" stop-color="#ffa1a1"/><stop offset="0.8856" stop-color="#ff9b9b"/><stop offset="0.8876" stop-color="#ff9b9b"/><stop offset="0.8902" stop-color="#e0d0f0"/><stop offset="0.8916" stop-color="#e0d0f0"/><stop offset="0.8941" stop-color="#a0a0ff"/><stop offset="0.8982" stop-color="#a0a0ff"/><stop offset="0.9012" stop-color="#d0d0ff"/><stop offset="0.9052" stop-color="#d0d0ff"/><stop offset="0.9082" stop-color="#8080ff"/><stop offset="0.9110" stop-color="#8080ff"/><stop offset="0.9140" stop-color="#8c8cff"/><stop offset="0.9167" stop-color="#8c8cff"/><stop offset="0.9194" stop-color="#c080c0"/><stop offset="0.9221" stop-color="#ff0000"/><stop offset="0.9425" stop-color="#ff0000"/><stop offset="0.9455" stop-color="#ff1414"/><stop offset="0.9552" stop-color="#ff1414"/><stop offset="0.9581" stop-color="#ffb5b5"/><stop offset="0.9600" stop-color="#ffb5b5"/><stop offset="0.9628" stop-color="#ffb9b9"/><stop offset="0.9646" stop-color="#ffb9b9"/><stop offset="0.9676" stop-color="#f8f0ff"/><stop offset="0.9751" stop-color="#f8f0ff"/><stop offset="0.9780" stop-color="#ff6868"/><stop offset="0.9799" stop-color="#ff6868"/><stop offset="0.9827" stop-color="#ff6464"/><stop offset="0.9845" stop-color="#ff6464"/><stop offset="0.9874" stop-color="#ff3b3b"/><stop offset="0.9892" stop-color="#ff3b3b"/><stop offset="0.9920" stop-color="#ff4242"/><stop offset="0.9939" stop-color="#ff4242"/><stop offset="0.9967" stop-color="#ff4242"/><stop offset="0.9986" stop-color="#ff4242"/></linearGradient>
<linearGradient id="g11" gradientUnits="userSpaceOnUse" x1="0" y1="143" x2="0" y2="741"><stop offset="0.0014" stop-color="#4949ff"/><stop offset="0.0033" stop-color="#4949ff"/><stop offset="0.0062" stop-color="#4848ff"/><stop offset="0.0081" stop-color="#4848ff"/><stop offset="0.0110" stop-color="#0000ff"/><stop offset="0.0212" stop-color="#0000ff"/><stop offset="0.0242" stop-color="#d0d0ff"/><stop offset="0.0273" stop-color="#d0d0ff"/><stop offset="0.0299" stop-color="#3030ff"/><stop offset="0.0322" stop-color="#7070ff"/><stop offset="0.0337" stop-color="#7070ff"/><stop offset="0.0363" stop-color="#0000ff"/><stop offset="0.0768" stop-color="#0000ff"/><stop offset="0.0794" stop-color="#ffffff"/><stop offset="0.0821" stop-color="#ff0000"/><stop offset="0.0997" stop-color="#ff0000"/><stop offset="0.1023" stop-color="#ff5050"/><stop offset="0.1037" stop-color="#ff5050"/><stop offset="0.1064" stop-color="#ff1818"/><stop offset="0.1105" stop-color="#ff1818"/><stop offset="0.1131" stop-color="#f0e8f8"/><stop offset="0.1146" stop-color="#f0e8f8"/><stop offset="0.1171" stop-color="#ffe5e5"/><stop offset="0.1191" stop-color="#ffe5e5"/><stop offset="0.1219" stop-color="#ffbcbc"/><stop offset="0.1238" stop-color="#ffbcbc"/><stop offset="0.1265" stop-color="#ffb0b0"/><stop offset="0.1282" stop-color="#ffb0b0"/><stop offset="0.1308" stop-color="#ffabab"/><stop offset="0.1325" stop-color="#ffabab"/><stop offset="0.1353" stop-color="#ffffff"/><stop offset="0.1383" stop-color="#ffffff"/><stop offset="0.1413" stop-color="#ffbbbb"/><stop offset="0.1432" stop-color="#ffbbbb"/><stop offset="0.1461" stop-color="#ffcdcd"/><stop offset="0.1480" stop-color="#ffcdcd"/><stop offset="0.1510" stop-color="#ffffff"/><stop offset="0.1540" stop-color="#ffffff"/><stop offset="0.1570" stop-color="#c0c0ff"/><stop offset="0.1600" stop-color="#c0c0ff"/><stop offset="0.1630" stop-color="#f0f0ff"/><stop offset="0.1661" stop-color="#f0f0ff"/><stop offset="0.1691" stop-color="#ff6d6d"/><stop offset="0.1715" stop-color="#ff6d6d"/><stop offset="0.1745" stop-color="#ff5a5a"/><stop offset="0.1769" stop-color="#ff5a5a"/><stop offset="0.1796" stop-color="#ff2727"/><stop offset="0.1812" stop-color="#ff2727"/><stop offset="0.1836" stop-color="#ff1f1f"/><stop offset="0.1853" stop-color="#ff1f1f"/><stop offset="0.1877" stop-color="#ff2727"/><stop offset="0.1893" stop-color="#ff2727"/><stop offset="0.1917" stop-color="#ff6060"/><stop offset="0.1934" stop-color="#ff6060"/><stop offset="0.1960" stop-color="#ff4f4f"/><stop offset="0.1976" stop-color="#ff4f4f"/><stop offset="0.2002" stop-color="#ff4c4c"/><stop offset="0.2019" stop-color="#ff4c4c"/><stop offset="0.2044" stop-color="#ff4b4b"/><stop offset="0.2061" stop-color="#ff4b4b"/><stop offset="0.2086" stop-color="#ffe6e6"/><stop offset="0.2102" stop-color="#ffe6e6"/><stop offset="0.2126" stop-color="#ffe6e6"/><stop offset="0.2142" stop-color="#ffe6e6"/><stop offset="0.2166" stop-color="#ffcbcb"/><stop offset="0.2182" stop-color="#ffcbcb"/><stop offset="0.2209" stop-color="#ffb0b0"/><stop offset="0.2251" stop-color="#ffb0b0"/><stop offset="0.2278" stop-color="#ffffff"/><stop offset="0.2306" stop-color="#b0b0ff"/><stop offset="0.2348" stop-color="#b0b0ff"/><stop offset="0.2377" stop-color="#7373ff"/><stop offset="0.2397" stop-color="#7373ff"/><stop offset="0.2426" stop-color="#7c7cff"/><stop offset="0.2445" stop-color="#7c7cff"/><stop offset="0.2474" stop-color="#8a8aff"/><stop offset="0.2494" stop-color="#8a8aff"/><stop offset="0.2523" stop-color="#9090ff"/><stop offset="0.2542" stop-color="#9090ff"/><stop offset="0.2571" stop-color="#9595ff"/><stop offset="0.2590" stop-color="#9595ff"/><stop offset="0.2619" stop-color="#9898ff"/><stop offset="0.2638" stop-color="#9898ff"/><stop offset="0.2665" stop-color="#6767ff"/><stop offset="0.2682" stop-color="#6767ff"/><stop offset="0.2707" stop-color="#6969ff"/><stop offset="0.2724" stop-color="#6969ff"/><stop offset="0.2749" stop-color="#5353ff"/><stop offset="0.2766" stop-color="#5353ff"/><stop offset="0.2792" stop-color="#5252ff"/><stop offset="0.2808" stop-color="#5252ff"/><stop offset="0.2836" stop-color="#4848ff"/><stop offset="0.2860" stop-color="#4848ff"/><stop offset="0.2890" stop-color="#4343ff"/><stop offset="0.2915" stop-color="#4343ff"/><stop offset="0.2943" stop-color="#9999ff"/><stop offset="0.2961" stop-color="#9999ff"/><stop offset="0.2988" stop-color="#9292ff"/><stop offset="0.3007" stop-color="#9292ff"/><stop offset="0.3034" stop-color="#9a9aff"/><stop offset="0.3052" stop-color="#9a9aff"/><stop offset="0.3079" stop-color="#9a9aff"/><stop offset="0.3097" stop-color="#9a9aff"/><stop offset="0.3124" stop-color="#5858ff"/><stop offset="0.3143" stop-color="#5858ff"/><stop offset="0.3170" stop-color="#5757ff"/><stop offset="0.3189" stop-color="#5757ff"/><stop offset="0.3216" stop-color="#5050ff"/><stop offset="0.3235" stop-color="#5050ff"/><stop offset="0.3262" stop-color="#4d4dff"/><stop offset="0.3281" stop-color="#4d4dff"/><stop offset="0.3309" stop-color="#4949ff"/><stop offset="0.3329" stop-color="#4949ff"/><stop offset="0.3360" stop-color="#4747ff"/><stop offset="0.3380" stop-color="#4747ff"/><stop offset="0.3408" stop-color="#3030ff"/><stop offset="0.3426" stop-color="#3030ff"/><stop offset="0.3453" stop-color="#3636ff"/><stop offset="0.3470" stop-color="#3636ff"/><stop offset="0.3497" stop-color="#3030ff"/><stop offset="0.3515" stop-color="#3030ff"/><stop offset="0.3543" stop-color="#0000ff"/><stop offset="0.4667" stop-color="#0000ff"/><stop offset="0.4696" stop-color="#2d2dff"/><stop offset="0.4714" stop-color="#2d2dff"/><stop offset="0.4742" stop-color="#2929ff"/><stop offset="0.4760" stop-color="#2929ff"/><stop offset="0.4787" stop-color="#2727ff"/><stop offset="0.4805" stop-color="#2727ff"/><stop offset="0.4833" stop-color="#2a2aff"/><stop offset="0.4851" stop-color="#2a2aff"/><stop offset="0.4878" stop-color="#2323ff"/><stop offset="0.4897" stop-color="#2323ff"/><stop offset="0.4924" stop-color="#1f1fff"/><stop offset="0.4942" stop-color="#1f1fff"/><stop offset="0.4970" stop-color="#2020ff"/><stop offset="0.4988" stop-color="#2020ff"/><stop offset="0.5015" stop-color="#2525ff"/><stop offset="0.5033" stop-color="#2525ff"/><stop offset="0.5061" stop-color="#2626ff"/><stop offset="0.5079" stop-color="#2626ff"/><stop offset="0.5106" stop-color="#2424ff"/><stop offset="0.5125" stop-color="#2424ff"/><stop offset="0.5152" stop-color="#2525ff"/><stop offset="0.5170" stop-color="#2525ff"/><stop offset="0.5199" stop-color="#0000ff"/><stop offset="0.5453" stop-color="#0000ff"/><stop offset="0.5483" stop-color="#7a7aff"/><stop offset="0.5503" stop-color="#7a7aff"/><stop offset="0.5533" stop-color="#6161ff"/><stop offset="0.5554" stop-color="#6161ff"/><stop offset="0.5584" stop-color="#6e6eff"/><stop offset="0.5604" stop-color="#6e6eff"/><stop offset="0.5632" stop-color="#4545ff"/><stop offset="0.5649" stop-color="#4545ff"/><stop offset="0.5676" stop-color="#4343ff"/><stop offset="0.5693" stop-color="#4343ff"/><stop offset="0.5720" stop-color="#4d4dff"/><stop offset="0.5737" stop-color="#4d4dff"/><stop offset="0.5764" stop-color="#4242ff"/><stop offset="0.5781" stop-color="#4242ff"/><stop offset="0.5807" stop-color="#3d3dff"/><stop offset="0.5825" stop-color="#3d3dff"/><stop offset="0.5851" stop-color="#4040ff"/><stop offset="0.5869" stop-color="#4040ff"/><stop offset="0.5895" stop-color="#5353ff"/><stop offset="0.5913" stop-color="#5353ff"/><stop offset="0.5939" stop-color="#4444ff"/><stop offset="0.5957" stop-color="#4444ff"/><stop offset="0.5985" stop-color="#0000ff"/><stop offset="0.6992" stop-color="#0000ff"/><stop offset="0.7022" stop-color="#2121ff"/><stop offset="0.7042" stop-color="#2121ff"/><stop offset="0.7072" stop-color="#3030ff"/><stop offset="0.7092" stop-color="#3030ff"/><stop offset="0.7122" stop-color="#2b2bff"/><stop offset="0.7142" stop-color="#2b2bff"/><stop offset="0.7172" stop-color="#3030ff"/><stop offset="0.7192" stop-color="#3030ff"/><stop offset="0.7222" stop-color="#2525ff"/><stop offset="0.7242" stop-color="#2525ff"/><stop offset="0.7273" stop-color="#2e2eff"/><stop offset="0.7293" stop-color="#2e2eff"/><stop offset="0.7323" stop-color="#0000ff"/><stop offset="0.7386" stop-color="#0000ff"/><stop offset="0.7415" stop-color="#5353ff"/><stop offset="0.7433" stop-color="#5353ff"/><stop offset="0.7460" stop-color="#5959ff"/><stop offset="0.7478" stop-color="#5959ff"/><stop offset="0.7505" stop-color="#4646ff"/><stop offset="0.7523" stop-color="#4646ff"/><stop offset="0.7550" stop-color="#4040ff"/><stop offset="0.7567" stop-color="#4040ff"/><stop offset="0.7594" stop-color="#4646ff"/><stop offset="0.7612" stop-color="#4646ff"/><stop offset="0.7640" stop-color="#0000ff"/><stop offset="0.8145" stop-color="#0000ff"/><stop offset="0.8176" stop-color="#5959ff"/><stop offset="0.8197" stop-color="#5959ff"/><stop offset="0.8227" stop-color="#6666ff"/><stop offset="0.8248" stop-color="#6666ff"/><stop offset="0.8278" stop-color="#5151ff"/><stop offset="0.8299" stop-color="#5151ff"/><stop offset="0.8329" stop-color="#5f5fff"/><stop offset="0.8350" stop-color="#5f5fff"/><stop offset="0.8380" stop-color="#5454ff"/><stop offset="0.8401" stop-color="#5454ff"/><stop offset="0.8431" stop-color="#0000ff"/><stop offset="0.9199" stop-color="#0000ff"/><stop offset="0.9229" stop-color="#3030ff"/><stop offset="0.9249" stop-color="#3030ff"/><stop offset="0.9279" stop-color="#0000ff"/><stop offset="0.9985" stop-color="#0000ff"/></linearGradient>
<linearGradient id="g12" gradientUnits="userSpaceOnUse" x1="0" y1="143" x2="0" y2="741"><stop offset="0.0015" stop-color="#ff2020"/><stop offset="0.0055" stop-color="#ff2020"/><stop offset="0.0085" stop-color="#ff0808"/><stop offset="0.0176" stop-color="#ff0808"/><stop offset="0.0205" stop-color="#ff2a2a"/><stop offset="0.0225" stop-color="#ff2a2a"/><stop offset="0.0254" stop-color="#ff3737"/><stop offset="0.0273" stop-color="#ff3737"/><stop offset="0.0302" stop-color="#ff2f2f"/><stop offset="0.0322" stop-color="#ff2f2f"/><stop offset="0.0351" stop-color="#ff0404"/><stop offset="0.0768" stop-color="#ff0404"/><stop offset="0.0794" stop-color="#ffffff"/><stop offset="0.0821" stop-color="#0808ff"/><stop offset="0.0900" stop-color="#0808ff"/><stop offset="0.0929" stop-color="#5858ff"/><stop offset="0.0949" stop-color="#5858ff"/><stop offset="0.0978" stop-color="#4b4bff"/><stop offset="0.0997" stop-color="#4b4bff"/><stop offset="0.1023" stop-color="#9090ff"/><stop offset="0.1037" stop-color="#9090ff"/><stop offset="0.1064" stop-color="#1818ff"/><stop offset="0.1105" stop-color="#1818ff"/><stop offset="0.1132" stop-color="#c080c0"/><stop offset="0.1155" stop-color="#ffa0a0"/><stop offset="0.1170" stop-color="#ffa0a0"/><stop offset="0.1195" stop-color="#ffffff"/><stop offset="0.1215" stop-color="#ffffff"/><stop offset="0.1244" stop-color="#ffa0a0"/><stop offset="0.1263" stop-color="#ffa0a0"/><stop offset="0.1292" stop-color="#ffe0e0"/><stop offset="0.1312" stop-color="#ffe0e0"/><stop offset="0.1338" stop-color="#ff9090"/><stop offset="0.1354" stop-color="#ff9090"/><stop offset="0.1378" stop-color="#ff9696"/><stop offset="0.1394" stop-color="#ff9696"/><stop offset="0.1418" stop-color="#ff8c8c"/><stop offset="0.1434" stop-color="#ff8c8c"/><stop offset="0.1461" stop-color="#ff9696"/><stop offset="0.1480" stop-color="#ff9696"/><stop offset="0.1508" stop-color="#ffa6a6"/><stop offset="0.1528" stop-color="#ffa6a6"/><stop offset="0.1554" stop-color="#ff4141"/><stop offset="0.1570" stop-color="#ff4141"/><stop offset="0.1595" stop-color="#ff3e3e"/><stop offset="0.1611" stop-color="#ff3e3e"/><stop offset="0.1635" stop-color="#ff3737"/><stop offset="0.1652" stop-color="#ff3737"/><stop offset="0.1676" stop-color="#ffc0c0"/><stop offset="0.1702" stop-color="#ffffff"/><stop offset="0.1744" stop-color="#ffffff"/><stop offset="0.1774" stop-color="#ffd0d0"/><stop offset="0.1793" stop-color="#ffd0d0"/><stop offset="0.1822" stop-color="#acacff"/><stop offset="0.1842" stop-color="#acacff"/><stop offset="0.1871" stop-color="#9f9fff"/><stop offset="0.1890" stop-color="#9f9fff"/><stop offset="0.1919" stop-color="#f6f6ff"/><stop offset="0.1939" stop-color="#f6f6ff"/><stop offset="0.1968" stop-color="#d7d7ff"/><stop offset="0.1987" stop-color="#d7d7ff"/><stop offset="0.2017" stop-color="#ffffff"/><stop offset="0.2094" stop-color="#ffffff"/><stop offset="0.2124" stop-color="#ff8686"/><stop offset="0.2148" stop-color="#ff8686"/><stop offset="0.2178" stop-color="#ff7f7f"/><stop offset="0.2202" stop-color="#ff7f7f"/><stop offset="0.2232" stop-color="#ffb8b8"/><stop offset="0.2251" stop-color="#ffb8b8"/><stop offset="0.2279" stop-color="#6666ff"/><stop offset="0.2296" stop-color="#6666ff"/><stop offset="0.2321" stop-color="#6c6cff"/><stop offset="0.2338" stop-color="#6c6cff"/><stop offset="0.2366" stop-color="#0808ff"/><stop offset="0.2505" stop-color="#0808ff"/><stop offset="0.2532" stop-color="#3030ff"/><stop offset="0.2548" stop-color="#3030ff"/><stop offset="0.2572" stop-color="#2a2aff"/><stop offset="0.2588" stop-color="#2a2aff"/><stop offset="0.2612" stop-color="#2f2fff"/><stop offset="0.2628" stop-color="#2f2fff"/><stop offset="0.2655" stop-color="#5050ff"/><stop offset="0.2674" stop-color="#5050ff"/><stop offset="0.2704" stop-color="#2424ff"/><stop offset="0.2728" stop-color="#2424ff"/><stop offset="0.2758" stop-color="#1919ff"/><stop offset="0.2783" stop-color="#1919ff"/><stop offset="0.2811" stop-color="#5656ff"/><stop offset="0.2828" stop-color="#5656ff"/><stop offset="0.2855" stop-color="#6161ff"/><stop offset="0.2873" stop-color="#6161ff"/><stop offset="0.2899" stop-color="#6b6bff"/><stop offset="0.2917" stop-color="#6b6bff"/><stop offset="0.2945" stop-color="#0000ff"/><stop offset="0.3279" stop-color="#0000ff"/><stop offset="0.3309" stop-color="#0000ff"/><stop offset="0.3973" stop-color="#0000ff"/><stop offset="0.4003" stop-color="#1010ff"/><stop offset="0.4132" stop-color="#1010ff"/><stop offset="0.4162" stop-color="#4141ff"/><stop offset="0.4181" stop-color="#4141ff"/><stop offset="0.4211" stop-color="#3939ff"/><stop offset="0.4231" stop-color="#3939ff"/><stop offset="0.4260" stop-color="#3030ff"/><stop offset="0.4280" stop-color="#3030ff"/><stop offset="0.4309" stop-color="#4040ff"/><stop offset="0.4329" stop-color="#4040ff"/><stop offset="0.4358" stop-color="#4242ff"/><stop offset="0.4378" stop-color="#4242ff"/><stop offset="0.4407" stop-color="#4040ff"/><stop offset="0.4427" stop-color="#4040ff"/><stop offset="0.4456" stop-color="#6161ff"/><stop offset="0.4475" stop-color="#6161ff"/><stop offset="0.4503" stop-color="#5d5dff"/><stop offset="0.4522" stop-color="#5d5dff"/><stop offset="0.4551" stop-color="#6262ff"/><stop offset="0.4570" stop-color="#6262ff"/><stop offset="0.4599" stop-color="#6868ff"/><stop offset="0.4618" stop-color="#6868ff"/><stop offset="0.4647" stop-color="#3a3aff"/><stop offset="0.4666" stop-color="#3a3aff"/><stop offset="0.4695" stop-color="#3030ff"/><stop offset="0.4715" stop-color="#3030ff"/><stop offset="0.4744" stop-color="#3030ff"/><stop offset="0.4763" stop-color="#3030ff"/><stop offset="0.4792" stop-color="#2c2cff"/><stop offset="0.4812" stop-color="#2c2cff"/><stop offset="0.4841" stop-color="#3131ff"/><stop offset="0.4860" stop-color="#3131ff"/><stop offset="0.4889" stop-color="#3131ff"/><stop offset="0.4909" stop-color="#3131ff"/><stop offset="0.4938" stop-color="#5252ff"/><stop offset="0.4957" stop-color="#5252ff"/><stop offset="0.4986" stop-color="#5757ff"/><stop offset="0.5005" stop-color="#5757ff"/><stop offset="0.5034" stop-color="#6363ff"/><stop offset="0.5053" stop-color="#6363ff"/><stop offset="0.5082" stop-color="#5151ff"/><stop offset="0.5101" stop-color="#5151ff"/><stop offset="0.5130" stop-color="#5252ff"/><stop offset="0.5149" stop-color="#5252ff"/><stop offset="0.5177" stop-color="#8989ff"/><stop offset="0.5195" stop-color="#8989ff"/><stop offset="0.5222" stop-color="#9d9dff"/><stop offset="0.5240" stop-color="#9d9dff"/><stop offset="0.5266" stop-color="#8989ff"/><stop offset="0.5284" stop-color="#8989ff"/><stop offset="0.5310" stop-color="#6969ff"/><stop offset="0.5326" stop-color="#6969ff"/><stop offset="0.5351" stop-color="#6c6cff"/><stop offset="0.5367" stop-color="#6c6cff"/><stop offset="0.5392" stop-color="#6a6aff"/><stop offset="0.5408" stop-color="#6a6aff"/><stop offset="0.5433" stop-color="#6868ff"/><stop offset="0.5449" stop-color="#6868ff"/><stop offset="0.5477" stop-color="#0000ff"/><stop offset="0.5926" stop-color="#0000ff"/><stop offset="0.5956" stop-color="#2323ff"/><stop offset="0.5976" stop-color="#2323ff"/><stop offset="0.6006" stop-color="#2727ff"/><stop offset="0.6025" stop-color="#2727ff"/><stop offset="0.6055" stop-color="#2e2eff"/><stop offset="0.6075" stop-color="#2e2eff"/><stop offset="0.6104" stop-color="#2323ff"/><stop offset="0.6124" stop-color="#2323ff"/><stop offset="0.6154" stop-color="#2a2aff"/><stop offset="0.6173" stop-color="#2a2aff"/><stop offset="0.6203" stop-color="#2f2fff"/><stop offset="0.6223" stop-color="#2f2fff"/><stop offset="0.6251" stop-color="#5b5bff"/><stop offset="0.6270" stop-color="#5b5bff"/><stop offset="0.6297" stop-color="#4c4cff"/><stop offset="0.6316" stop-color="#4c4cff"/><stop offset="0.6343" stop-color="#4747ff"/><stop offset="0.6362" stop-color="#4747ff"/><stop offset="0.6389" stop-color="#4444ff"/><stop offset="0.6408" stop-color="#4444ff"/><stop offset="0.6436" stop-color="#0000ff"/><stop offset="0.9065" stop-color="#0000ff"/><stop offset="0.9095" stop-color="#4b4bff"/><stop offset="0.9115" stop-color="#4b4bff"/><stop offset="0.9145" stop-color="#5151ff"/><stop offset="0.9166" stop-color="#5151ff"/><stop offset="0.9193" stop-color="#9090ff"/><stop offset="0.9218" stop-color="#5050ff"/><stop offset="0.9235" stop-color="#5050ff"/><stop offset="0.9262" stop-color="#2424ff"/><stop offset="0.9280" stop-color="#2424ff"/><stop offset="0.9308" stop-color="#2e2eff"/><stop offset="0.9327" stop-color="#2e2eff"/><stop offset="0.9355" stop-color="#2b2bff"/><stop offset="0.9374" stop-color="#2b2bff"/><stop offset="0.9402" stop-color="#2a2aff"/><stop offset="0.9421" stop-color="#2a2aff"/><stop offset="0.9449" stop-color="#2e2eff"/><stop offset="0.9468" stop-color="#2e2eff"/><stop offset="0.9497" stop-color="#0000ff"/><stop offset="0.9550" stop-color="#0000ff"/><stop offset="0.9580" stop-color="#5454ff"/><stop offset="0.9600" stop-color="#5454ff"/><stop offset="0.9629" stop-color="#5c5cff"/><stop offset="0.9649" stop-color="#5c5cff"/><stop offset="0.9678" stop-color="#5454ff"/><stop offset="0.9698" stop-color="#5454ff"/><stop offset="0.9727" stop-color="#5252ff"/><stop offset="0.9747" stop-color="#5252ff"/><stop offset="0.9776" stop-color="#4e4eff"/><stop offset="0.9796" stop-color="#4e4eff"/><stop offset="0.9825" stop-color="#6060ff"/><stop offset="0.9845" stop-color="#6060ff"/><stop offset="0.9875" stop-color="#0000ff"/><stop offset="0.9985" stop-color="#0000ff"/></linearGradient>
<linearGradient id="g13" x1="0" y1="0" x2="1" y2="0"><stop offset="0" stop-color="#0000ff"/><stop offset="0.06" stop-color="#0000ff"/><stop offset="0.495" stop-color="#ffffff"/><stop offset="0.97" stop-color="#ff0000"/><stop offset="1" stop-color="#ff0000"/></linearGradient>
<linearGradient id="g14" x1="0" y1="0" x2="1" y2="0"><stop offset="0" stop-color="#0000ff"/><stop offset="0.06" stop-color="#0000ff"/><stop offset="0.49" stop-color="#ffffff"/><stop offset="0.97" stop-color="#ff0000"/><stop offset="1" stop-color="#ff0000"/></linearGradient>
<linearGradient id="g15" x1="0" y1="0" x2="1" y2="0"><stop offset="0" stop-color="#0000ff"/><stop offset="0.06" stop-color="#0000ff"/><stop offset="0.49" stop-color="#ffffff"/><stop offset="0.97" stop-color="#ff0000"/><stop offset="1" stop-color="#ff0000"/></linearGradient></defs>
<rect width="1377" height="1386" fill="#fff"/>
<rect x="100.0" y="143" width="85.1" height="598" fill="url(#g1)"/>
<rect x="184.5" y="143" width="85.1" height="598" fill="url(#g2)"/>
<rect x="269.0" y="143" width="85.6" height="598" fill="url(#g3)"/>
<rect x="354.0" y="143" width="86.0" height="598" fill="url(#g4)"/>
<rect x="527.0" y="142" width="91.6" height="598" fill="url(#g5)"/>
<rect x="618.0" y="142" width="91.6" height="598" fill="url(#g6)"/>
<rect x="709.0" y="142" width="92.6" height="598" fill="url(#g7)"/>
<rect x="801.0" y="142" width="91.0" height="598" fill="url(#g8)"/>
<rect x="985.0" y="143" width="92.6" height="598" fill="url(#g9)"/>
<rect x="1077.0" y="143" width="91.6" height="598" fill="url(#g10)"/>
<rect x="1168.0" y="143" width="92.6" height="598" fill="url(#g11)"/>
<rect x="1260.0" y="143" width="92.0" height="598" fill="url(#g12)"/>
<rect x="184.4" y="753.4" width="169.9" height="12.6" fill="url(#g13)" stroke="#000" stroke-width="1"/>
<line x1="183.9" y1="753.4" x2="354.8" y2="753.4" stroke="#000" stroke-width="1.6"/>
<line x1="184.4" y1="766" x2="184.4" y2="772" stroke="#000" stroke-width="1.5"/>
<text x="184.4" y="786" font-size="14.5" text-anchor="middle">&lt;0</text>
<line x1="226.8" y1="766" x2="226.8" y2="772" stroke="#000" stroke-width="1.5"/>
<text x="226.8" y="786" font-size="14.5" text-anchor="middle">0,4</text>
<line x1="273" y1="766" x2="273" y2="772" stroke="#000" stroke-width="1.5"/>
<text x="273" y="786" font-size="14.5" text-anchor="middle">0,8</text>
<line x1="296" y1="766" x2="296" y2="772" stroke="#000" stroke-width="1.5"/>
<text x="296" y="786" font-size="14.5" text-anchor="middle">1</text>
<line x1="319.5" y1="766" x2="319.5" y2="772" stroke="#000" stroke-width="1.5"/>
<text x="319.5" y="786" font-size="14.5" text-anchor="middle">1,2</text>
<line x1="354.3" y1="766" x2="354.3" y2="772" stroke="#000" stroke-width="1.5"/>
<text x="354.3" y="786" font-size="14.5" text-anchor="middle">1,5</text>
<rect x="618" y="752.7" width="182.7" height="12.3" fill="url(#g14)" stroke="#000" stroke-width="1"/>
<line x1="617.5" y1="752.7" x2="801.2" y2="752.7" stroke="#000" stroke-width="1.6"/>
<line x1="618" y1="765" x2="618" y2="771" stroke="#000" stroke-width="1.5"/>
<text x="618" y="784.6" font-size="14.5" text-anchor="middle">&lt;-0,4</text>
<line x1="665" y1="765" x2="665" y2="771" stroke="#000" stroke-width="1.5"/>
<text x="665" y="784.6" font-size="14.5" text-anchor="middle">0</text>
<line x1="701" y1="765" x2="701" y2="771" stroke="#000" stroke-width="1.5"/>
<text x="701" y="784.6" font-size="14.5" text-anchor="middle">0,4</text>
<line x1="737" y1="765" x2="737" y2="771" stroke="#000" stroke-width="1.5"/>
<text x="737" y="784.6" font-size="14.5" text-anchor="middle">0,8</text>
<line x1="773.6" y1="765" x2="773.6" y2="771" stroke="#000" stroke-width="1.5"/>
<text x="773.6" y="784.6" font-size="14.5" text-anchor="middle">1,2</text>
<line x1="800.7" y1="765" x2="800.7" y2="771" stroke="#000" stroke-width="1.5"/>
<text x="800.7" y="784.6" font-size="14.5" text-anchor="middle">1,5</text>
<rect x="1076.4" y="754" width="184" height="12" fill="url(#g15)" stroke="#000" stroke-width="1"/>
<line x1="1075.9" y1="754" x2="1260.9" y2="754" stroke="#000" stroke-width="1.6"/>
<line x1="1076.4" y1="766" x2="1076.4" y2="772" stroke="#000" stroke-width="1.5"/>
<text x="1076.4" y="786" font-size="14.5" text-anchor="middle">&lt;-0,4</text>
<line x1="1122.7" y1="766" x2="1122.7" y2="772" stroke="#000" stroke-width="1.5"/>
<text x="1122.7" y="786" font-size="14.5" text-anchor="middle">0</text>
<line x1="1159.4" y1="766" x2="1159.4" y2="772" stroke="#000" stroke-width="1.5"/>
<text x="1159.4" y="786" font-size="14.5" text-anchor="middle">0,4</text>
<line x1="1196.2" y1="766" x2="1196.2" y2="772" stroke="#000" stroke-width="1.5"/>
<text x="1196.2" y="786" font-size="14.5" text-anchor="middle">0,8</text>
<line x1="1233" y1="766" x2="1233" y2="772" stroke="#000" stroke-width="1.5"/>
<text x="1233" y="786" font-size="14.5" text-anchor="middle">1,2</text>
<line x1="1260.4" y1="766" x2="1260.4" y2="772" stroke="#000" stroke-width="1.5"/>
<text x="1260.4" y="786" font-size="14.5" text-anchor="middle">1,5</text>
<text x="24.2" y="54.3" font-size="38.8" text-anchor="start" font-weight="bold" fill="#000">A</text>
<text x="28.1" y="850" font-size="38.4" text-anchor="start" font-weight="bold" fill="#000">B</text>
<text x="280.6" y="46" font-size="22.6" text-anchor="middle" font-weight="bold" fill="#000">Azamethiphos treatment</text>
<text x="708.9" y="46" font-size="22.6" text-anchor="middle" font-weight="bold" fill="#000">Deltamethrin treatment</text>
<text x="1169.4" y="46" font-size="22.5" text-anchor="middle" font-weight="bold" fill="#000">Cypermethrin treatment</text>
<text x="140.3" y="133.6" font-size="30" text-anchor="middle" font-weight="normal" fill="#000">S</text>
<text x="223.5" y="133.6" font-size="30" text-anchor="middle" font-weight="normal" fill="#000">R</text>
<text x="316" y="134.3" font-size="30" text-anchor="middle" font-weight="normal" fill="#000">R(T)</text>
<text x="400" y="135.8" font-size="30" text-anchor="middle" font-weight="normal" fill="#000">S(T)</text>
<text x="572.2" y="133.6" font-size="30" text-anchor="middle" font-weight="normal" fill="#000">R(T)</text>
<text x="668.3" y="135.1" font-size="30" text-anchor="middle" font-weight="normal" fill="#000">S(T)</text>
<text x="756.5" y="133.6" font-size="30" text-anchor="middle" font-weight="normal" fill="#000">R</text>
<text x="845.8" y="133.6" font-size="30" text-anchor="middle" font-weight="normal" fill="#000">S</text>
<text x="1028" y="133.6" font-size="30" text-anchor="middle" font-weight="normal" fill="#000">S</text>
<text x="1135" y="133.6" font-size="30" text-anchor="middle" font-weight="normal" fill="#000">R</text>
<text x="1217.5" y="131.8" font-size="30" text-anchor="middle" font-weight="normal" fill="#000">R(T)</text>
<text x="1305.2" y="130.3" font-size="30" text-anchor="middle" font-weight="normal" fill="#000">S(T)</text>
<path d="M184.7 64.5H354.0M184.7 64.5V85.9M354.0 64.5V85.9M142.3 85.9H227.2M142.3 85.9V98.9M227.2 85.9V98.9M311.7 85.9H396.9M311.7 85.9V98.9M396.9 85.9V98.9M572.2 58.8H732.3M572.2 58.8V98.9M732.3 58.8V73.8M664.0 73.8H800.7M664.0 73.8V98.9M800.7 73.8V89.5M755.0 89.5H846.5M755.0 89.5V98.9M846.5 89.5V98.9M1031.0 59.8H1191.3M1031.0 59.8V98.9M1191.3 59.8V75.2M1122.5 75.2H1260.0M1122.5 75.2V98.9M1260.0 75.2V90.5M1214.3 90.5H1306.2M1214.3 90.5V98.9M1306.2 90.5V98.9" fill="none" stroke="#000" stroke-width="1.25"/>
<path d="M38 420H42.4M42.4 274.6V564.8M42.4 274.6H50.6M50.6 214.0V334.8M50.6 214.0H58.0M58.0 186.5V244.0M58.0 186.5H62.5M62.5 166.0V207.0M62.5 166.0H70.0M70.0 155.4V170.8M70.0 155.4H72.2M72.2 149.9V160.8M72.2 149.9H79.0M79.0 146.3V153.6M79.0 146.3H83.4M83.4 144.3V148.3M83.4 144.3H93.9M83.4 148.3H88.2M88.2 147.0V149.6M88.2 147.0H93.9M88.2 149.6H93.9M79.0 153.6H88.6M88.6 152.2V154.9M88.6 152.2H93.9M88.6 154.9H93.9M72.2 160.8H82.8M82.8 158.9V162.8M82.8 158.9H88.4M88.4 157.5V160.2M88.4 157.5H93.9M88.4 160.2H93.9M82.8 162.8H93.9M70.0 170.8H79.2M79.2 166.8V174.7M79.2 166.8H88.5M88.5 165.5V168.1M88.5 165.5H93.9M88.5 168.1H93.9M79.2 174.7H83.3M83.3 172.1V177.4M83.3 172.1H88.0M88.0 170.8V173.4M88.0 170.8H93.9M88.0 173.4H93.9M83.3 177.4H88.5M88.5 176.0V178.7M88.5 176.0H93.9M88.5 178.7H93.9M62.5 207.0H64.5M64.5 191.5V210.7M64.5 191.5H75.1M75.1 186.4V196.6M75.1 186.4H79.0M79.0 182.6V190.2M79.0 182.6H88.9M88.9 181.3V183.8M88.9 181.3H93.9M88.9 183.8H93.9M79.0 190.2H85.0M85.0 187.7V192.8M85.0 187.7H88.7M88.7 186.4V188.9M88.7 186.4H93.9M88.7 188.9H93.9M85.0 192.8H88.5M88.5 191.5V194.1M88.5 191.5H93.9M88.5 194.1H93.9M75.1 196.6H93.9M64.5 210.7H68.9M68.9 203.0V218.5M68.9 203.0H84.3M84.3 200.4V205.6M84.3 200.4H88.7M88.7 199.2V201.7M88.7 199.2H93.9M88.7 201.7H93.9M84.3 205.6H88.3M88.3 204.3V206.8M88.3 204.3H93.9M88.3 206.8H93.9M68.9 218.5H76.1M76.1 213.5V223.4M76.1 213.5H80.5M80.5 210.7V216.4M80.5 210.7H88.7M88.7 209.4V211.9M88.7 209.4H93.9M88.7 211.9H93.9M80.5 216.4H84.0M84.0 214.5V218.3M84.0 214.5H93.9M84.0 218.3H88.6M88.6 217.1V219.6M88.6 217.1H93.9M88.6 219.6H93.9M76.1 223.4H88.2M88.2 222.2V224.7M88.2 222.2H93.9M88.2 224.7H93.9M58.0 244.0H62.5M62.5 225.5V259.0M62.5 225.5H73.6M73.6 225.5V241.8M73.6 225.5H78.7M78.7 229.0V237.5M78.7 229.0H83.1M83.1 227.2V230.9M83.1 227.2H93.9M83.1 230.9H88.5M88.5 229.6V232.1M88.5 229.6H93.9M88.5 232.1H93.9M78.7 237.5H82.8M82.8 235.7V239.4M82.8 235.7H87.8M87.8 234.5V236.9M87.8 234.5H93.9M87.8 236.9H93.9M82.8 239.4H93.9M73.6 241.8H93.9M62.5 259.0H66.8M66.8 259.0V283.1M66.8 259.0H69.3M69.3 260.3V272.9M69.3 260.3H70.8M70.8 254.3V266.4M70.8 254.3H74.9M74.9 248.7V259.9M74.9 248.7H79.2M79.2 244.3V253.1M79.2 244.3H93.9M79.2 253.1H83.5M83.5 250.1V256.0M83.5 250.1H86.6M86.6 248.2V252.1M86.6 248.2H89.5M89.5 246.9V249.5M89.5 246.9H93.9M89.5 249.5H93.9M86.6 252.1H93.9M83.5 256.0H89.8M89.8 254.7V257.3M89.8 254.7H93.9M89.8 257.3H93.9M74.9 259.9H93.9M70.8 266.4H87.2M87.2 263.8V269.0M87.2 263.8H89.8M89.8 262.5V265.1M89.8 262.5H93.9M89.8 265.1H93.9M87.2 269.0H89.8M89.8 267.7V270.3M89.8 267.7H93.9M89.8 270.3H93.9M69.3 272.9H93.9M66.8 283.1H78.8M78.8 277.4V288.8M78.8 277.4H86.3M86.3 275.5V279.4M86.3 275.5H93.9M86.3 279.4H89.8M89.8 278.1V280.7M89.8 278.1H93.9M89.8 280.7H93.9M78.8 288.8H82.8M82.8 285.2V292.4M82.8 285.2H86.4M86.4 283.3V287.2M86.4 283.3H93.9M86.4 287.2H90.0M90.0 285.9V288.5M90.0 285.9H93.9M90.0 288.5H93.9M82.8 292.4H89.5M89.5 291.1V293.7M89.5 291.1H93.9M89.5 293.7H93.9M50.6 334.8H53.8M53.8 299.0V370.5M53.8 299.0H70.0M70.0 297.0V301.0M70.0 297.0H93.9M70.0 301.0H73.6M73.6 299.6V302.7M73.6 299.6H93.9M73.6 302.7H77.2M77.2 301.2V304.4M77.2 301.2H93.9M77.2 304.4H80.8M80.8 302.2V306.1M80.8 302.2H93.9M80.8 306.1H84.4M84.4 303.2V307.8M84.4 303.2H93.9M84.4 307.8H88.0M88.0 304.1V310.7M88.0 304.1H93.9M88.0 310.7H93.9M53.8 370.5H58.1M58.1 321.8V420.3M58.1 321.8H62.8M62.8 319.3V338.0M62.8 319.3H77.4M77.4 315.5V323.2M77.4 315.5H84.2M84.2 313.6V317.4M84.2 313.6H88.3M88.3 312.3V314.8M88.3 312.3H93.9M88.3 314.8H93.9M84.2 317.4H93.9M77.4 323.2H83.0M83.0 321.2V325.1M83.0 321.2H88.4M88.4 320.0V322.5M88.4 320.0H93.9M88.4 322.5H93.9M83.0 325.1H93.9M62.8 338.0H68.8M68.8 331.8V344.2M68.8 331.8H77.8M77.8 328.9V334.7M77.8 328.9H88.3M88.3 327.7V330.2M88.3 327.7H93.9M88.3 330.2H93.9M77.8 334.7H83.0M83.0 332.8V336.6M83.0 332.8H93.9M83.0 336.6H88.0M88.0 335.3V337.9M88.0 335.3H93.9M88.0 337.9H93.9M68.8 344.2H72.4M72.4 340.5V347.8M72.4 340.5H93.9M72.4 347.8H78.6M78.6 345.0V350.7M78.6 345.0H83.1M83.1 343.0V346.9M83.1 343.0H93.9M83.1 346.9H88.1M88.1 345.6V348.2M88.1 345.6H93.9M88.1 348.2H93.9M78.6 350.7H93.9M58.1 420.3H62.0M62.0 385.0V448.0M62.0 385.0H66.2M66.2 374.9V406.4M66.2 374.9H71.3M71.3 366.4V383.4M71.3 366.4H74.5M74.5 360.6V372.1M74.5 360.6H80.0M80.0 357.3V363.9M80.0 357.3H83.7M83.7 354.6V359.9M83.7 354.6H88.3M88.3 353.3V356.0M88.3 353.3H93.9M88.3 356.0H93.9M83.7 359.9H88.3M88.3 358.6V361.2M88.3 358.6H93.9M88.3 361.2H93.9M80.0 363.9H93.9M74.5 372.1H78.8M78.8 369.8V374.4M78.8 369.8H84.0M84.0 367.8V371.8M84.0 367.8H88.3M88.3 366.5V369.2M88.3 366.5H93.9M88.3 369.2H93.9M84.0 371.8H93.9M78.8 374.4H93.9M71.3 383.4H78.7M78.7 380.4V386.3M78.7 380.4H83.7M83.7 378.4V382.4M83.7 378.4H88.4M88.4 377.1V379.7M88.4 377.1H93.9M88.4 379.7H93.9M83.7 382.4H93.9M78.7 386.3H88.4M88.4 385.0V387.6M88.4 385.0H93.9M88.4 387.6H93.9M66.2 406.4H71.1M71.1 400.0V412.7M71.1 400.0H73.9M73.9 395.9V404.1M73.9 395.9H78.8M78.8 393.6V398.2M78.8 393.6H84.2M84.2 391.6V395.6M84.2 391.6H88.8M88.8 390.3V392.9M88.8 390.3H93.9M88.8 392.9H93.9M84.2 395.6H93.9M78.8 398.2H93.9M73.9 404.1H83.8M83.8 402.2V406.1M83.8 402.2H88.7M88.7 400.8V403.5M88.7 400.8H93.9M88.7 403.5H93.9M83.8 406.1H93.9M71.1 412.7H84.5M84.5 410.1V415.4M84.5 410.1H88.9M88.9 408.8V411.4M88.9 408.8H93.9M88.9 411.4H93.9M84.5 415.4H88.5M88.5 414.0V416.7M88.5 414.0H93.9M88.5 416.7H93.9M62.0 448.0H64.0M64.0 424.7V456.7M64.0 424.7H69.0M69.0 419.3V430.0M69.0 419.3H93.9M69.0 430.0H72.8M72.8 425.2V434.8M72.8 425.2H84.7M84.7 423.3V427.2M84.7 423.3H88.6M88.6 422.0V424.6M88.6 422.0H93.9M88.6 424.6H93.9M84.7 427.2H93.9M72.8 434.8H78.1M78.1 431.8V437.8M78.1 431.8H84.0M84.0 429.9V433.8M84.0 429.9H93.9M84.0 433.8H88.4M88.4 432.5V435.1M88.4 432.5H93.9M88.4 435.1H93.9M78.1 437.8H93.9M64.0 456.7H70.2M70.2 449.1V464.3M70.2 449.1H74.1M74.1 444.7V453.6M74.1 444.7H80.1M80.1 441.7V447.7M80.1 441.7H88.6M88.6 440.4V443.0M88.6 440.4H93.9M88.6 443.0H93.9M80.1 447.7H84.9M84.9 445.7V449.6M84.9 445.7H93.9M84.9 449.6H88.2M88.2 448.3V451.0M88.2 448.3H93.9M88.2 451.0H93.9M74.1 453.6H93.9M70.2 464.3H75.2M75.2 459.5V469.1M75.2 459.5H84.7M84.7 457.5V461.5M84.7 457.5H88.4M88.4 456.2V458.9M88.4 456.2H93.9M88.4 458.9H93.9M84.7 461.5H93.9M75.2 469.1H79.4M79.4 465.5V472.7M79.4 465.5H88.4M88.4 464.1V466.8M88.4 464.1H93.9M88.4 466.8H93.9M79.4 472.7H84.3M84.3 470.7V474.7M84.3 470.7H88.2M88.2 469.4V472.0M88.2 469.4H93.9M88.2 472.0H93.9M84.3 474.7H93.9M42.4 564.8H46.2M46.2 508.6V621.0M46.2 508.6H58.0M58.0 490.0V524.8M58.0 490.0H66.7M66.7 487.5V500.4M66.7 487.5H73.0M73.0 482.3V492.8M73.0 482.3H78.8M78.8 479.3V485.2M78.8 479.3H83.6M83.6 477.3V481.3M83.6 477.3H93.9M83.6 481.3H88.1M88.1 480.0V482.6M88.1 480.0H93.9M88.1 482.6H93.9M78.8 485.2H93.9M73.0 492.8H79.5M79.5 489.8V495.8M79.5 489.8H83.0M83.0 487.9V491.8M83.0 487.9H93.9M83.0 491.8H88.0M88.0 490.5V493.1M88.0 490.5H93.9M88.0 493.1H93.9M79.5 495.8H93.9M66.7 500.4H82.8M82.8 498.4V502.4M82.8 498.4H93.9M82.8 502.4H88.4M88.4 501.0V503.7M88.4 501.0H93.9M88.4 503.7H93.9M58.0 524.8H62.0M62.0 510.5V540.0M62.0 510.5H67.8M67.8 506.2V519.7M67.8 506.2H93.9M67.8 519.7H73.8M73.8 515.6V523.8M73.8 515.6H78.7M78.7 511.9V519.4M78.7 511.9H83.1M83.1 510.0V513.8M83.1 510.0H88.5M88.5 508.8V511.2M88.5 508.8H93.9M88.5 511.2H93.9M83.1 513.8H93.9M78.7 519.4H83.4M83.4 517.5V521.2M83.4 517.5H88.4M88.4 516.2V518.8M88.4 516.2H93.9M88.4 518.8H93.9M83.4 521.2H93.9M73.8 523.8H93.9M62.0 540.0H66.1M66.1 535.2V565.6M66.1 535.2H73.7M73.7 529.3V541.0M73.7 529.3H79.7M79.7 526.3V532.3M79.7 526.3H93.9M79.7 532.3H84.6M84.6 530.3V534.3M84.6 530.3H88.2M88.2 529.0V531.7M88.2 529.0H93.9M88.2 531.7H93.9M84.6 534.3H93.9M73.7 541.0H83.6M83.6 538.3V543.7M83.6 538.3H88.2M88.2 537.0V539.7M88.2 537.0H93.9M88.2 539.7H93.9M83.6 543.7H88.8M88.8 542.3V545.0M88.8 542.3H93.9M88.8 545.0H93.9M66.1 565.6H70.1M70.1 559.5V571.7M70.1 559.5H74.3M74.3 554.0V565.0M74.3 554.0H78.2M78.2 551.0V557.0M78.2 551.0H84.4M84.4 549.0V553.0M84.4 549.0H88.6M88.6 547.7V550.3M88.6 547.7H93.9M88.6 550.3H93.9M84.4 553.0H93.9M78.2 557.0H88.3M88.3 555.7V558.3M88.3 555.7H93.9M88.3 558.3H93.9M74.3 565.0H84.0M84.0 562.3V567.7M84.0 562.3H88.8M88.8 561.0V563.7M88.8 561.0H93.9M88.8 563.7H93.9M84.0 567.7H88.5M88.5 566.3V569.0M88.5 566.3H93.9M88.5 569.0H93.9M70.1 571.7H93.9M46.2 621.0H51.0M51.0 585.5V655.7M51.0 585.5H66.2M66.2 578.2V594.6M66.2 578.2H71.6M71.6 574.2V582.1M71.6 574.2H93.9M71.6 582.1H77.9M77.9 578.6V585.5M77.9 578.6H82.9M82.9 576.8V580.5M82.9 576.8H93.9M82.9 580.5H88.6M88.6 579.2V581.8M88.6 579.2H93.9M88.6 581.8H93.9M77.9 585.5H88.4M88.4 584.2V586.8M88.4 584.2H93.9M88.4 586.8H93.9M66.2 594.6H78.8M78.8 592.4V596.8M78.8 592.4H84.1M84.1 590.5V594.2M84.1 590.5H88.0M88.0 589.2V591.8M88.0 589.2H93.9M88.0 591.8H93.9M84.1 594.2H93.9M78.8 596.8H93.9M51.0 655.7H53.8M53.8 603.3V691.4M53.8 603.3H79.3M79.3 601.4V607.6M79.3 601.4H84.3M84.3 599.4V603.5M84.3 599.4H93.9M84.3 603.5H88.1M88.1 602.1V604.9M88.1 602.1H93.9M88.1 604.9H93.9M79.3 607.6H93.9M53.8 691.4H58.0M58.0 650.0V712.0M58.0 650.0H60.0M60.0 627.6V659.0M60.0 627.6H70.2M70.2 621.3V633.8M70.2 621.3H74.5M74.5 614.7V627.9M74.5 614.7H76.4M76.4 610.3V619.1M76.4 610.3H93.9M76.4 619.1H81.7M81.7 616.2V622.1M81.7 616.2H85.0M85.0 614.2V618.1M85.0 614.2H89.4M89.4 612.9V615.5M89.4 612.9H93.9M89.4 615.5H93.9M85.0 618.1H93.9M81.7 622.1H89.2M89.2 620.8V623.4M89.2 620.8H93.9M89.2 623.4H93.9M74.5 627.9H85.2M85.2 626.0V629.9M85.2 626.0H93.9M85.2 629.9H89.5M89.5 628.6V631.2M89.5 628.6H93.9M89.5 631.2H93.9M70.2 633.8H93.9M60.0 659.0H65.0M65.0 645.6V672.3M65.0 645.6H80.7M80.7 640.4V650.8M80.7 640.4H85.9M85.9 637.7V643.0M85.9 637.7H88.9M88.9 636.4V639.0M88.9 636.4H93.9M88.9 639.0H93.9M85.9 643.0H89.1M89.1 641.7V644.3M89.1 641.7H93.9M89.1 644.3H93.9M80.7 650.8H85.3M85.3 648.2V653.4M85.3 648.2H89.5M89.5 646.9V649.5M89.5 646.9H93.9M89.5 649.5H93.9M85.3 653.4H88.9M88.9 652.1V654.7M88.9 652.1H93.9M88.9 654.7H93.9M65.0 672.3H67.6M67.6 662.9V681.8M67.6 662.9H81.9M81.9 659.3V666.5M81.9 659.3H85.4M85.4 657.3V661.3M85.4 657.3H93.9M85.4 661.3H89.5M89.5 660.0V662.6M89.5 660.0H93.9M89.5 662.6H93.9M81.9 666.5H89.3M89.3 665.2V667.8M89.3 665.2H93.9M89.3 667.8H93.9M67.6 681.8H72.5M72.5 676.8V686.7M72.5 676.8H77.5M77.5 672.7V680.9M77.5 672.7H81.7M81.7 670.4V675.0M81.7 670.4H93.9M81.7 675.0H85.4M85.4 673.0V676.9M85.4 673.0H93.9M85.4 676.9H89.3M89.3 675.6V678.2M89.3 675.6H93.9M89.3 678.2H93.9M77.5 680.9H93.9M72.5 686.7H85.1M85.1 684.8V688.7M85.1 684.8H89.5M89.5 683.5V686.1M89.5 683.5H93.9M89.5 686.1H93.9M85.1 688.7H93.9M58.0 712.0H62.3M62.3 704.2V728.2M62.3 704.2H64.4M64.4 696.5V712.0M64.4 696.5H71.8M71.8 692.5V700.4M71.8 692.5H88.8M88.8 691.3V693.8M88.8 691.3H93.9M88.8 693.8H93.9M71.8 700.4H74.9M74.9 696.4V704.3M74.9 696.4H93.9M74.9 704.3H80.2M80.2 702.1V706.6M80.2 702.1H84.7M84.7 700.2V704.0M84.7 700.2H88.9M88.9 698.9V701.5M88.9 698.9H93.9M88.9 701.5H93.9M84.7 704.0H93.9M80.2 706.6H93.9M64.4 712.0H78.6M78.6 709.1V714.9M78.6 709.1H93.9M78.6 714.9H84.6M84.6 713.0V716.8M84.6 713.0H88.3M88.3 711.7V714.2M88.3 711.7H93.9M88.3 714.2H93.9M84.6 716.8H93.9M62.3 728.2H74.1M74.1 721.6V734.9M74.1 721.6H78.6M78.6 719.3V723.8M78.6 719.3H93.9M78.6 723.8H84.4M84.4 721.9V725.7M84.4 721.9H93.9M84.4 725.7H88.5M88.5 724.4V727.0M88.5 724.4H93.9M88.5 727.0H93.9M74.1 734.9H79.2M79.2 731.4V738.5M79.2 731.4H84.1M84.1 729.5V733.4M84.1 729.5H93.9M84.1 733.4H88.9M88.9 732.1V734.6M88.9 732.1H93.9M88.9 734.6H93.9M79.2 738.5H88.8M88.8 737.2V739.7M88.8 737.2H93.9M88.8 739.7H93.9" fill="none" stroke="#000" stroke-width="1.3" stroke-linejoin="round"/>
<path d="M460.4 289.6H463.6M463.6 177.2V403.3M463.6 177.2H501.5M501.5 154.0V200.0M501.5 154.0H513.0M513.0 146.5V161.2M513.0 146.5H520.5M513.0 161.2H517.3M517.3 155.6V167.0M517.3 155.6H520.5M517.3 167.0H520.5M501.5 200.0H505.8M505.8 186.0V213.5M505.8 186.0H520.5M505.8 213.5H509.0M509.0 202.3V225.4M509.0 202.3H516.6M516.6 198.4V206.0M516.6 198.4H520.5M516.6 206.0H520.5M509.0 225.4H513.0M513.0 217.8V234.5M513.0 217.8H520.5M513.0 234.5H516.6M516.6 227.6V241.6M516.6 227.6H520.5M516.6 241.6H520.5M463.6 403.3H467.6M467.6 270.8V535.8M467.6 270.8H494.0M494.0 252.9V289.2M494.0 252.9H497.6M497.6 248.6V257.5M497.6 248.6H520.5M497.6 257.5H501.3M501.3 255.6V259.5M501.3 255.6H520.5M501.3 259.5H505.1M505.1 258.2V261.2M505.1 258.2H520.5M505.1 261.2H508.9M508.9 259.8V262.9M508.9 259.8H520.5M508.9 262.9H512.7M512.7 260.8V264.6M512.7 260.8H520.5M512.7 264.6H516.5M516.5 261.8V267.5M516.5 261.8H520.5M516.5 267.5H520.5M494.0 289.2H516.6M516.6 281.6V296.1M516.6 281.6H520.5M516.6 296.1H520.5M467.6 535.8H471.6M471.6 401.7V670.0M471.6 401.7H475.2M475.2 324.9V478.2M475.2 324.9H505.0M505.0 309.7V340.0M505.0 309.7H516.9M516.9 307.0V312.4M516.9 307.0H520.5M516.9 312.4H520.5M505.0 340.0H509.0M509.0 330.0V350.0M509.0 330.0H520.5M509.0 350.0H513.0M513.0 343.0V356.0M513.0 343.0H520.5M513.0 356.0H516.9M516.9 352.0V362.0M516.9 352.0H520.5M516.9 362.0H520.5M475.2 478.2H478.5M478.5 421.6V534.2M478.5 421.6H482.4M482.4 391.3V451.0M482.4 391.3H512.8M512.8 382.6V400.2M512.8 382.6H520.5M512.8 400.2H517.3M517.3 393.7V407.4M517.3 393.7H520.5M517.3 407.4H520.5M482.4 451.0H486.5M486.5 426.5V476.0M486.5 426.5H516.9M516.9 421.8V431.2M516.9 421.8H520.5M516.9 431.2H520.5M486.5 476.0H490.4M490.4 461.6V490.9M490.4 461.6H493.7M493.7 445.7V478.2M493.7 445.7H497.6M497.6 443.1V447.9M497.6 443.1H520.5M497.6 447.9H501.4M501.4 445.7V449.6M501.4 445.7H520.5M501.4 449.6H505.2M505.2 447.3V451.3M505.2 447.3H520.5M505.2 451.3H509.0M509.0 448.3V453.0M509.0 448.3H520.5M509.0 453.0H512.8M512.8 449.3V454.7M512.8 449.3H520.5M512.8 454.7H516.6M516.6 450.2V457.6M516.6 450.2H520.5M516.6 457.6H520.5M493.7 478.2H520.5M490.4 490.9H516.9M516.9 486.2V495.6M516.9 486.2H520.5M516.9 495.6H520.5M478.5 534.2H497.6M497.6 514.3V554.7M497.6 514.3H509.2M509.2 507.4V520.8M509.2 507.4H520.5M509.2 520.8H512.8M512.8 515.7V525.8M512.8 515.7H520.5M512.8 525.8H516.9M516.9 522.0V530.0M516.9 522.0H520.5M516.9 530.0H520.5M497.6 554.7H501.5M501.5 544.6V564.5M501.5 544.6H516.9M516.9 539.9V549.3M516.9 539.9H520.5M516.9 549.3H520.5M501.5 564.5H505.5M505.5 554.4V574.2M505.5 554.4H520.5M505.5 574.2H509.2M509.2 564.8V582.0M509.2 564.8H512.8M512.8 559.8V569.2M512.8 559.8H520.5M512.8 569.2H516.9M516.9 565.7V572.7M516.9 565.7H520.5M516.9 572.7H520.5M509.2 582.0H520.5M471.6 670.0H505.0M505.0 634.0V709.0M505.0 634.0H513.0M513.0 613.4V647.5M513.0 613.4H516.8M516.8 603.3V622.2M516.8 603.3H520.5M516.8 622.2H520.5M513.0 647.5H516.8M516.8 633.6V658.8M516.8 633.6H520.5M516.8 658.8H520.5M505.0 709.0H508.5M508.5 690.4V725.8M508.5 690.4H513.0M513.0 676.5V706.8M513.0 676.5H516.9M516.9 671.5V677.8M516.9 671.5H520.5M516.9 677.8H520.5M513.0 706.8H516.8M516.8 699.2V713.1M516.8 699.2H520.5M516.8 713.1H520.5M508.5 725.8H520.5" fill="none" stroke="#000" stroke-width="1.3" stroke-linejoin="round"/>
<line x1="520.6" y1="142" x2="520.6" y2="740" stroke="#000" stroke-width="1.6"/>
<path d="M917.5 346.2H921.3M921.3 189.1V503.3M921.3 189.1H936.3M936.3 157.3V220.1M936.3 157.3H939.7M939.7 149.4V165.7M939.7 149.4H970.5M970.5 145.5V153.3M970.5 145.5H978.0M970.5 153.3H974.4M974.4 151.5V155.1M974.4 151.5H978.0M974.4 155.1H978.0M939.7 165.7H943.8M943.8 160.2V171.0M943.8 160.2H978.0M943.8 171.0H947.7M947.7 165.7V176.8M947.7 165.7H978.0M947.7 176.8H951.3M951.3 171.0V182.6M951.3 171.0H978.0M951.3 182.6H955.0M955.0 175.8V189.1M955.0 175.8H959.7M959.7 173.5V177.5M959.7 173.5H978.0M959.7 177.5H963.3M963.3 176.1V179.2M963.3 176.1H978.0M963.3 179.2H966.9M966.9 177.7V180.9M966.9 177.7H978.0M966.9 180.9H970.5M970.5 178.7V182.6M970.5 178.7H978.0M970.5 182.6H974.1M974.1 179.7V185.5M974.1 179.7H978.0M974.1 185.5H978.0M955.0 189.1H978.0M936.3 220.1H955.0M955.0 199.2V241.1M955.0 199.2H962.5M962.5 193.1V205.7M962.5 193.1H966.0M966.0 191.5V194.5M966.0 191.5H978.0M966.0 194.5H969.6M969.6 194.1V196.2M969.6 194.1H978.0M969.6 196.2H973.2M973.2 195.7V199.1M973.2 195.7H978.0M973.2 199.1H978.0M962.5 205.7H978.0M955.0 241.1H958.9M958.9 223.0V259.6M958.9 223.0H962.5M962.5 214.4V232.4M962.5 214.4H974.4M974.4 211.5V217.3M974.4 211.5H978.0M974.4 217.3H978.0M962.5 232.4H966.9M966.9 226.6V237.0M966.9 226.6H974.4M974.4 224.4V228.8M974.4 224.4H978.0M974.4 228.8H978.0M966.9 237.0H970.5M970.5 234.6V239.6M970.5 234.6H978.0M970.5 239.6H978.0M958.9 259.6H966.9M966.9 251.9V267.4M966.9 251.9H970.5M970.5 247.6V255.5M970.5 247.6H978.0M970.5 255.5H974.4M974.4 253.0V258.0M974.4 253.0H978.0M974.4 258.0H978.0M966.9 267.4H970.5M970.5 263.5V271.4M970.5 263.5H978.0M970.5 271.4H974.4M974.4 268.1V274.6M974.4 268.1H978.0M974.4 274.6H978.0M921.3 503.3H925.0M925.0 339.0V667.4M925.0 339.0H928.7M928.7 288.4V389.0M928.7 288.4H958.9M958.9 280.8V296.0M958.9 280.8H978.0M958.9 296.0H962.5M962.5 287.6V304.3M962.5 287.6H974.4M974.4 285.1V290.1M974.4 285.1H978.0M974.4 290.1H978.0M962.5 304.3H966.9M966.9 298.1V310.4M966.9 298.1H978.0M966.9 310.4H970.5M970.5 306.0V314.8M970.5 306.0H974.4M974.4 303.9V308.1M974.4 303.9H978.0M974.4 308.1H978.0M970.5 314.8H974.4M974.4 312.7V316.9M974.4 312.7H978.0M974.4 316.9H978.0M928.7 389.0H932.6M932.6 339.0V439.8M932.6 339.0H954.9M954.9 325.6V351.7M954.9 325.6H971.2M971.2 321.8V329.2M971.2 321.8H974.0M974.0 319.9V323.6M974.0 319.9H978.0M974.0 323.6H978.0M971.2 329.2H973.6M973.6 327.4V331.1M973.6 327.4H978.0M973.6 331.1H978.0M954.9 351.7H958.8M958.8 340.6V363.2M958.8 340.6H966.5M966.5 339.6V348.2M966.5 339.6H971.1M971.1 336.8V342.5M971.1 336.8H973.7M973.7 334.9V338.7M973.7 334.9H978.0M973.7 338.7H978.0M971.1 342.5H978.0M966.5 348.2H973.9M973.9 346.3V350.1M973.9 346.3H978.0M973.9 350.1H978.0M958.8 363.2H962.6M962.6 359.0V373.7M962.6 359.0H966.4M966.4 354.2V363.9M966.4 354.2H978.0M966.4 363.9H970.5M970.5 360.7V367.2M970.5 360.7H973.5M973.5 358.5V362.8M973.5 358.5H978.0M973.5 362.8H978.0M970.5 367.2H978.0M962.6 373.7H973.9M973.9 371.5V375.8M973.9 371.5H978.0M973.9 375.8H978.0M932.6 439.8H936.6M936.6 402.9V476.3M936.6 402.9H958.8M958.8 391.7V414.4M958.8 391.7H963.9M963.9 382.0V394.5M963.9 382.0H978.0M963.9 394.5H966.4M966.4 389.0V400.0M966.4 389.0H970.9M970.9 386.0V392.0M970.9 386.0H978.0M970.9 392.0H973.9M973.9 390.0V394.0M973.9 390.0H978.0M973.9 394.0H978.0M966.4 400.0H973.9M973.9 398.0V402.0M973.9 398.0H978.0M973.9 402.0H978.0M958.8 414.4H974.4M974.4 411.9V416.9M974.4 411.9H978.0M974.4 416.9H978.0M936.6 476.3H940.3M940.3 443.0V509.7M940.3 443.0H958.8M958.8 431.1V455.7M958.8 431.1H964.1M964.1 425.7V440.8M964.1 425.7H967.6M967.6 422.1V429.4M967.6 422.1H978.0M967.6 429.4H970.1M970.1 426.2V432.5M970.1 426.2H978.0M970.1 432.5H973.8M973.8 430.4V434.6M973.8 430.4H978.0M973.8 434.6H978.0M964.1 440.8H973.7M973.7 438.8V442.9M973.7 438.8H978.0M973.7 442.9H978.0M958.8 455.7H967.8M967.8 452.6V462.8M967.8 452.6H970.6M970.6 449.2V456.0M970.6 449.2H978.0M970.6 456.0H974.0M974.0 453.8V458.2M974.0 453.8H978.0M974.0 458.2H978.0M967.8 462.8H978.0M940.3 509.7H943.7M943.7 485.9V533.5M943.7 485.9H962.8M962.8 477.1V493.8M962.8 477.1H967.6M967.6 470.2V478.1M967.6 470.2H978.0M967.6 478.1H970.4M970.4 474.8V481.5M970.4 474.8H978.0M970.4 481.5H973.9M973.9 479.2V483.8M973.9 479.2H978.0M973.9 483.8H978.0M962.8 493.8H974.4M974.4 490.8V496.8M974.4 490.8H978.0M974.4 496.8H978.0M943.7 533.5H947.7M947.7 513.3V553.7M947.7 513.3H967.5M967.5 507.2V518.8M967.5 507.2H974.1M974.1 505.1V509.3M974.1 505.1H978.0M974.1 509.3H978.0M967.5 518.8H970.5M970.5 515.6V521.9M970.5 515.6H973.8M973.8 513.5V517.7M973.8 513.5H978.0M973.8 517.7H978.0M970.5 521.9H978.0M947.7 553.7H951.5M951.5 539.6V570.1M951.5 539.6H955.5M955.5 529.1V549.5M955.5 529.1H959.3M959.3 526.5V530.0M959.3 526.5H978.0M959.3 530.0H962.9M962.9 529.1V531.7M962.9 529.1H978.0M962.9 531.7H966.5M966.5 530.7V533.4M966.5 530.7H978.0M966.5 533.4H970.1M970.1 531.7V535.1M970.1 531.7H978.0M970.1 535.1H973.7M973.7 532.7V538.0M973.7 532.7H978.0M973.7 538.0H978.0M955.5 549.5H974.4M974.4 546.5V552.5M974.4 546.5H978.0M974.4 552.5H978.0M951.5 570.1H966.8M966.8 562.3V578.1M966.8 562.3H971.0M971.0 560.0V566.0M971.0 560.0H973.5M973.5 558.0V562.0M973.5 558.0H978.0M973.5 562.0H978.0M971.0 566.0H978.0M966.8 578.1H974.4M974.4 574.6V581.6M974.4 574.6H978.0M974.4 581.6H978.0M925.0 667.4H951.5M951.5 623.2V712.2M951.5 623.2H955.5M955.5 596.7V649.5M955.5 596.7H966.7M966.7 593.7V603.6M966.7 593.7H970.8M970.8 590.4V597.0M970.8 590.4H974.1M974.1 588.2V592.6M974.1 588.2H978.0M974.1 592.6H978.0M970.8 597.0H978.0M966.7 603.6H973.7M973.7 601.4V605.8M973.7 601.4H978.0M973.7 605.8H978.0M955.5 649.5H959.3M959.3 629.2V670.2M959.3 629.2H963.6M963.6 619.3V634.8M963.6 619.3H973.9M973.9 617.1V621.4M973.9 617.1H978.0M973.9 621.4H978.0M963.6 634.8H966.4M966.4 628.9V640.7M966.4 628.9H970.5M970.5 625.7V632.1M970.5 625.7H978.0M970.5 632.1H973.5M973.5 630.0V634.3M973.5 630.0H978.0M973.5 634.3H978.0M966.4 640.7H974.1M974.1 638.6V642.9M974.1 638.6H978.0M974.1 642.9H978.0M959.3 670.2H962.1M962.1 655.2V685.6M962.1 655.2H972.4M972.4 651.1V659.3M972.4 651.1H974.7M974.7 649.0V653.1M974.7 649.0H978.0M974.7 653.1H978.0M972.4 659.3H974.9M974.9 657.2V661.3M974.9 657.2H978.0M974.9 661.3H978.0M962.1 685.6H963.7M963.7 681.3V690.0M963.7 681.3H967.4M967.4 676.7V685.9M967.4 676.7H970.0M970.0 671.5V681.8M970.0 671.5H972.2M972.2 667.5V675.6M972.2 667.5H974.8M974.8 665.4V669.5M974.8 665.4H978.0M974.8 669.5H978.0M972.2 675.6H974.9M974.9 673.6V677.7M974.9 673.6H978.0M974.9 677.7H978.0M970.0 681.8H978.0M967.4 685.9H978.0M963.7 690.0H978.0M951.5 712.2H955.5M955.5 694.3V725.5M955.5 694.3H966.1M966.1 694.3V705.0M966.1 694.3H974.1M974.1 694.0V698.0M974.1 694.0H978.0M974.1 698.0H978.0M966.1 705.0H971.0M971.0 702.0V708.0M971.0 702.0H978.0M971.0 708.0H973.5M973.5 706.0V710.0M973.5 706.0H978.0M973.5 710.0H978.0M955.5 725.5H966.8M966.8 719.4V732.4M966.8 719.4H970.0M970.0 716.2V722.7M970.0 716.2H978.0M970.0 722.7H973.7M973.7 720.5V724.8M973.7 720.5H978.0M973.7 724.8H978.0M966.8 732.4H971.0M971.0 729.2V735.7M971.0 729.2H978.0M971.0 735.7H973.9M973.9 733.5V737.8M973.9 733.5H978.0M973.9 737.8H978.0" fill="none" stroke="#000" stroke-width="1.3" stroke-linejoin="round"/>
<line x1="978" y1="143" x2="978" y2="741" stroke="#000" stroke-width="1.6"/>
<rect x="558.6" y="828" width="271.2" height="60.2" rx="14" fill="#aec4e8"/>
<text x="695.6" y="865.8" font-size="25" text-anchor="middle" font-weight="normal" fill="#0a0ab4">Molecular function</text>
<rect x="66" y="965.4" width="165" height="61.1" rx="12" fill="#f8736c"/>
<text x="148.5" y="991" font-size="17.5" text-anchor="middle" font-weight="normal" fill="#000">transporter activity</text>
<text x="148.5" y="1011.6" font-size="17.5" text-anchor="middle" font-weight="normal" fill="#000">(p-value: 4.7E-10)</text>
<rect x="579.5" y="965.2" width="165.5" height="61.4" rx="12" fill="#fde5e3"/>
<text x="662.25" y="990.3" font-size="17.5" text-anchor="middle" font-weight="normal" fill="#000">binding</text>
<text x="662.25" y="1011.2" font-size="17.5" text-anchor="middle" font-weight="normal" fill="#000">(p-value: 7E-3)</text>
<rect x="909.5" y="959.7" width="185.6" height="76.8" rx="12" fill="#fdd0ce"/>
<text x="1001.6" y="985.6" font-size="17.5" text-anchor="middle" font-weight="normal" fill="#000">transcription regulator</text>
<text x="1001.6" y="1006.6" font-size="17.5" text-anchor="middle" font-weight="normal" fill="#000">activity</text>
<text x="1001.6" y="1028" font-size="17.5" text-anchor="middle" font-weight="normal" fill="#000">(p-value: 5.6E-3)</text>
<rect x="1159" y="967" width="198" height="62" rx="12" fill="#f8736c"/>
<text x="1255.4" y="993.7" font-size="17.5" text-anchor="middle" font-weight="normal" fill="#000">oxidoreductase activity</text>
<text x="1255.4" y="1014.6" font-size="17.5" text-anchor="middle" font-weight="normal" fill="#000">(p-value: 1.7E-5)</text>
<rect x="28" y="1116" width="234.6" height="76.7" rx="12" fill="#fb8785"/>
<text x="145.3" y="1141" font-size="17.5" text-anchor="middle" font-weight="normal" fill="#000">transmembrane transporter</text>
<text x="145.3" y="1162" font-size="17.5" text-anchor="middle" font-weight="normal" fill="#000">activity</text>
<text x="145.3" y="1183" font-size="17.5" text-anchor="middle" font-weight="normal" fill="#000">(p-value: 1.3E-3)</text>
<rect x="288" y="1123.6" width="166" height="61.1" rx="12" fill="#f8736c"/>
<text x="371" y="1149" font-size="17.5" text-anchor="middle" font-weight="normal" fill="#000">drug binding</text>
<text x="371" y="1170" font-size="17.5" text-anchor="middle" font-weight="normal" fill="#000">(p-value: 6.8E-5)</text>
<rect x="476" y="1116" width="208.5" height="76.7" rx="12" fill="#f8736c"/>
<text x="580.25" y="1141" font-size="17.5" text-anchor="middle" font-weight="normal" fill="#000">sequence-specific DNA</text>
<text x="580.25" y="1162" font-size="17.5" text-anchor="middle" font-weight="normal" fill="#000">binding</text>
<text x="580.25" y="1183" font-size="17.5" text-anchor="middle" font-weight="normal" fill="#000">(p-value: 2.1E-7)</text>
<rect x="709" y="1115.8" width="176" height="76.8" rx="12" fill="#fb8785"/>
<text x="797" y="1141.5" font-size="17.5" text-anchor="middle" font-weight="normal" fill="#000">cytoskeletal protein</text>
<text x="797" y="1162.3" font-size="17.5" text-anchor="middle" font-weight="normal" fill="#000">binding</text>
<text x="797" y="1183.5" font-size="17.5" text-anchor="middle" font-weight="normal" fill="#000">(p-value: 1E-3)</text>
<rect x="907" y="1115.8" width="177" height="76.8" rx="12" fill="#fb8785"/>
<text x="995.5" y="1141.5" font-size="17.5" text-anchor="middle" font-weight="normal" fill="#000">protein dimerization</text>
<text x="995.5" y="1162.3" font-size="17.5" text-anchor="middle" font-weight="normal" fill="#000">activity</text>
<text x="995.5" y="1183.5" font-size="17.5" text-anchor="middle" font-weight="normal" fill="#000">(p-value: 1.1E-3)</text>
<rect x="1114" y="1115.8" width="233" height="76.8" rx="12" fill="#f8736c"/>
<text x="1230.5" y="1141.5" font-size="17.5" text-anchor="middle" font-weight="normal" fill="#000">DNA-binding transcription</text>
<text x="1230.5" y="1162.3" font-size="17.5" text-anchor="middle" font-weight="normal" fill="#000">factor activity</text>
<text x="1230.5" y="1183.5" font-size="17.5" text-anchor="middle" font-weight="normal" fill="#000">(p-value: 3.6E-4)</text>
<rect x="25" y="1274" width="233" height="96" rx="12" fill="#f8736c"/>
<text x="141.5" y="1297.3" font-size="17.5" text-anchor="middle" font-weight="normal" fill="#000">inorganic molecular entity</text>
<text x="141.5" y="1318.3" font-size="17.5" text-anchor="middle" font-weight="normal" fill="#000">transmembrane transporter</text>
<text x="141.5" y="1339.3" font-size="17.5" text-anchor="middle" font-weight="normal" fill="#000">activity</text>
<text x="141.5" y="1360.4" font-size="17.5" text-anchor="middle" font-weight="normal" fill="#000">(p-value: 3.4E-4)</text>
<rect x="284" y="1285.4" width="183.5" height="76.6" rx="12" fill="#f8736c"/>
<text x="375.75" y="1308" font-size="17.5" text-anchor="middle" font-weight="normal" fill="#000">ion transmembrane</text>
<text x="375.75" y="1329" font-size="17.5" text-anchor="middle" font-weight="normal" fill="#000">transporter activity</text>
<text x="375.75" y="1350.5" font-size="17.5" text-anchor="middle" font-weight="normal" fill="#000">(p-value: 1.6E-4)</text>
<line x1="208.0" y1="961.5" x2="577.9" y2="895.9" stroke="#85878c" stroke-width="2.4"/>
<polygon points="586.4,894.4 577.1,901.9 577.9,895.9 575.0,890.5" fill="#85878c"/>
<line x1="673.4" y1="960.0" x2="673.4" y2="902.2" stroke="#85878c" stroke-width="2.4"/>
<polygon points="673.4,893.6 679.2,904.1 673.4,902.2 667.6,904.1" fill="#85878c"/>
<line x1="954.4" y1="953.7" x2="768.0" y2="900.4" stroke="#85878c" stroke-width="2.4"/>
<polygon points="759.7,898.0 771.4,895.3 768.0,900.4 768.2,906.5" fill="#85878c"/>
<line x1="1202.9" y1="963.6" x2="819.8" y2="895.0" stroke="#85878c" stroke-width="2.4"/>
<polygon points="811.3,893.5 822.7,889.6 819.8,895.0 820.6,901.1" fill="#85878c"/>
<line x1="148.3" y1="1107.0" x2="148.3" y2="1050.6" stroke="#85878c" stroke-width="2.4"/>
<polygon points="148.3,1042.0 154.1,1052.5 148.3,1050.6 142.5,1052.5" fill="#85878c"/>
<line x1="423.4" y1="1115.0" x2="581.0" y2="1040.7" stroke="#85878c" stroke-width="2.4"/>
<polygon points="588.8,1037.0 581.8,1046.7 581.0,1040.7 576.8,1036.2" fill="#85878c"/>
<line x1="598.8" y1="1106.0" x2="631.4" y2="1044.1" stroke="#85878c" stroke-width="2.4"/>
<polygon points="635.4,1036.5 635.6,1048.5 631.4,1044.1 625.4,1043.1" fill="#85878c"/>
<line x1="752.4" y1="1105.8" x2="695.8" y2="1043.8" stroke="#85878c" stroke-width="2.4"/>
<polygon points="690.0,1037.5 701.4,1041.3 695.8,1043.8 692.8,1049.2" fill="#85878c"/>
<line x1="952.0" y1="1103.8" x2="735.6" y2="1039.9" stroke="#85878c" stroke-width="2.4"/>
<polygon points="727.4,1037.5 739.1,1034.9 735.6,1039.9 735.8,1046.0" fill="#85878c"/>
<line x1="1182.4" y1="1110.8" x2="1075.0" y2="1045.5" stroke="#85878c" stroke-width="2.4"/>
<polygon points="1067.7,1041.0 1079.7,1041.5 1075.0,1045.5 1073.7,1051.4" fill="#85878c"/>
<line x1="148.3" y1="1266.4" x2="148.3" y2="1211.4" stroke="#85878c" stroke-width="2.4"/>
<polygon points="148.3,1202.8 154.1,1213.3 148.3,1211.4 142.5,1213.3" fill="#85878c"/>
<line x1="344.7" y1="1280.4" x2="218.0" y2="1208.1" stroke="#85878c" stroke-width="2.4"/>
<polygon points="210.5,1203.8 222.5,1204.0 218.0,1208.1 216.7,1214.0" fill="#85878c"/>
</svg></body></html>
